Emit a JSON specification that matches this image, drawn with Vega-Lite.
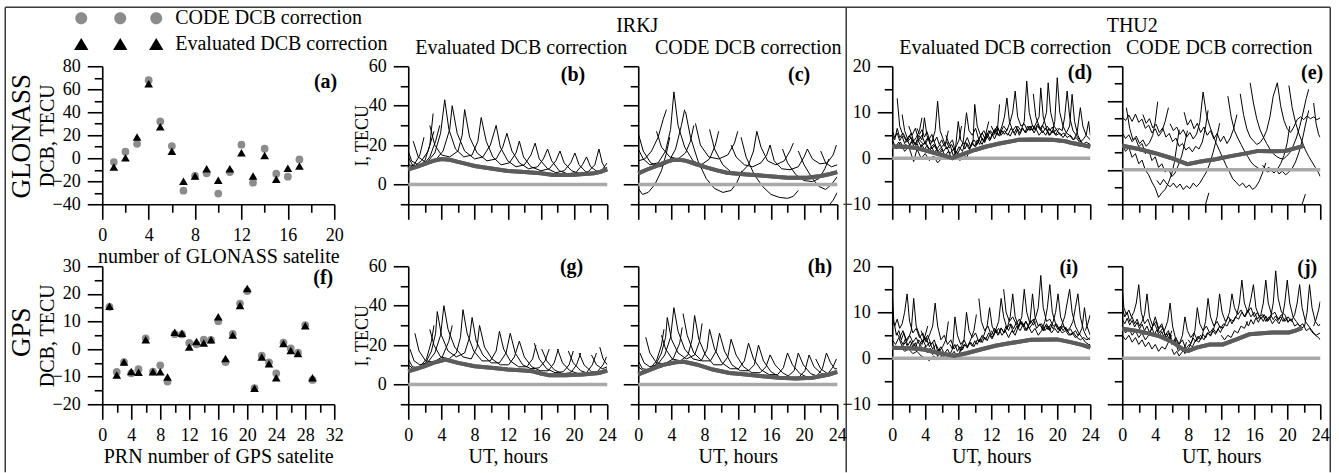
{
"$schema":"https://vega.github.io/schema/vega-lite/v6.json",
"autosize":{"type":"pad"},
"padding":{"left":4.25,"top":6.25,"right":8.25,"bottom":1},
"background":"white",
"config":{
 "font":"Liberation Serif",
 "view":{"stroke":null},
 "axis":{"domainColor":"black","domainWidth":1.6,"tickColor":"black","tickWidth":1.6,"labelFont":"Liberation Serif","labelFontSize":18,"labelColor":"black","titleFont":"Liberation Serif","titleFontSize":20,"titleFontWeight":"normal","titleColor":"black","grid":false,"labelPadding":7,"labelFlush":false,"labelOverlap":false,"titlePadding":4}
},
"datasets":{
"ga":[
{"n":1,"series":"CODE DCB correction","v":-3.3},{"n":2,"series":"CODE DCB correction","v":5.7},{"n":3,"series":"CODE DCB correction","v":12.6},{"n":4,"series":"CODE DCB correction","v":67.9},{"n":5,"series":"CODE DCB correction","v":32.0},{"n":6,"series":"CODE DCB correction","v":10.6},{"n":7,"series":"CODE DCB correction","v":-28.2},{"n":8,"series":"CODE DCB correction","v":-15.4},{"n":9,"series":"CODE DCB correction","v":-13.1},{"n":10,"series":"CODE DCB correction","v":-30.7},{"n":11,"series":"CODE DCB correction","v":-12.0},{"n":12,"series":"CODE DCB correction","v":11.8},{"n":13,"series":"CODE DCB correction","v":-21.2},{"n":14,"series":"CODE DCB correction","v":8.3},{"n":15,"series":"CODE DCB correction","v":-13.4},{"n":16,"series":"CODE DCB correction","v":-16.0},{"n":17,"series":"CODE DCB correction","v":-1.0},
{"n":1,"series":"Evaluated DCB correction","v":-7.5},{"n":2,"series":"Evaluated DCB correction","v":0.5},{"n":3,"series":"Evaluated DCB correction","v":18.4},{"n":4,"series":"Evaluated DCB correction","v":64.7},{"n":5,"series":"Evaluated DCB correction","v":27.4},{"n":6,"series":"Evaluated DCB correction","v":6.0},{"n":7,"series":"Evaluated DCB correction","v":-20.0},{"n":8,"series":"Evaluated DCB correction","v":-15.4},{"n":9,"series":"Evaluated DCB correction","v":-9.1},{"n":10,"series":"Evaluated DCB correction","v":-19.2},{"n":11,"series":"Evaluated DCB correction","v":-9.1},{"n":12,"series":"Evaluated DCB correction","v":4.8},{"n":13,"series":"Evaluated DCB correction","v":-15.4},{"n":14,"series":"Evaluated DCB correction","v":2.5},{"n":15,"series":"Evaluated DCB correction","v":-18.3},{"n":16,"series":"Evaluated DCB correction","v":-8.8},{"n":17,"series":"Evaluated DCB correction","v":-6.7}
],
"gp":[
{"n":1,"series":"CODE DCB correction","v":15.3},{"n":2,"series":"CODE DCB correction","v":-8.3},{"n":3,"series":"CODE DCB correction","v":-4.7},{"n":4,"series":"CODE DCB correction","v":-8.8},{"n":5,"series":"CODE DCB correction","v":-7.3},{"n":6,"series":"CODE DCB correction","v":3.9},{"n":7,"series":"CODE DCB correction","v":-8.2},{"n":8,"series":"CODE DCB correction","v":-5.9},{"n":9,"series":"CODE DCB correction","v":-11.8},{"n":10,"series":"CODE DCB correction","v":5.4},{"n":11,"series":"CODE DCB correction","v":5.3},{"n":12,"series":"CODE DCB correction","v":2.2},{"n":13,"series":"CODE DCB correction","v":1.7},{"n":14,"series":"CODE DCB correction","v":3.4},{"n":15,"series":"CODE DCB correction","v":3.3},{"n":16,"series":"CODE DCB correction","v":10.1},{"n":17,"series":"CODE DCB correction","v":-4.7},{"n":18,"series":"CODE DCB correction","v":5.5},{"n":19,"series":"CODE DCB correction","v":16.5},{"n":20,"series":"CODE DCB correction","v":21.0},{"n":21,"series":"CODE DCB correction","v":-14.2},{"n":22,"series":"CODE DCB correction","v":-2.4},{"n":23,"series":"CODE DCB correction","v":-4.8},{"n":24,"series":"CODE DCB correction","v":-8.8},{"n":25,"series":"CODE DCB correction","v":2.3},{"n":26,"series":"CODE DCB correction","v":0.2},{"n":27,"series":"CODE DCB correction","v":-1.3},{"n":28,"series":"CODE DCB correction","v":8.7},{"n":29,"series":"CODE DCB correction","v":-11.2},
{"n":1,"series":"Evaluated DCB correction","v":15.5},{"n":2,"series":"Evaluated DCB correction","v":-9.4},{"n":3,"series":"Evaluated DCB correction","v":-4.7},{"n":4,"series":"Evaluated DCB correction","v":-8.1},{"n":5,"series":"Evaluated DCB correction","v":-8.4},{"n":6,"series":"Evaluated DCB correction","v":3.4},{"n":7,"series":"Evaluated DCB correction","v":-8.2},{"n":8,"series":"Evaluated DCB correction","v":-8.2},{"n":9,"series":"Evaluated DCB correction","v":-10.1},{"n":10,"series":"Evaluated DCB correction","v":6.1},{"n":11,"series":"Evaluated DCB correction","v":5.7},{"n":12,"series":"Evaluated DCB correction","v":0.7},{"n":13,"series":"Evaluated DCB correction","v":2.7},{"n":14,"series":"Evaluated DCB correction","v":2.2},{"n":15,"series":"Evaluated DCB correction","v":3.4},{"n":16,"series":"Evaluated DCB correction","v":11.7},{"n":17,"series":"Evaluated DCB correction","v":-3.4},{"n":18,"series":"Evaluated DCB correction","v":5.1},{"n":19,"series":"Evaluated DCB correction","v":15.8},{"n":20,"series":"Evaluated DCB correction","v":21.9},{"n":21,"series":"Evaluated DCB correction","v":-14.2},{"n":22,"series":"Evaluated DCB correction","v":-2.9},{"n":23,"series":"Evaluated DCB correction","v":-5.3},{"n":24,"series":"Evaluated DCB correction","v":-10.4},{"n":25,"series":"Evaluated DCB correction","v":2.0},{"n":26,"series":"Evaluated DCB correction","v":-0.5},{"n":27,"series":"Evaluated DCB correction","v":-1.6},{"n":28,"series":"Evaluated DCB correction","v":8.4},{"n":29,"series":"Evaluated DCB correction","v":-10.4}
],
"m":[
{"p":"b","t":0,"v":7.7},{"p":"b","t":1,"v":9},{"p":"b","t":2,"v":10.5},{"p":"b","t":3,"v":12},{"p":"b","t":4,"v":12.9},{"p":"b","t":5,"v":12.6},{"p":"b","t":6,"v":11.5},{"p":"b","t":7,"v":10.5},{"p":"b","t":8,"v":9.4},{"p":"b","t":10,"v":8.1},{"p":"b","t":12,"v":6.9},{"p":"b","t":14,"v":6.3},{"p":"b","t":16,"v":5.7},{"p":"b","t":17.5,"v":4.8},{"p":"b","t":19,"v":4.9},{"p":"b","t":20,"v":5},{"p":"b","t":22.4,"v":5.7},{"p":"b","t":23.2,"v":6.5},{"p":"b","t":24,"v":7.7},
{"p":"c","t":0,"v":5.7},{"p":"c","t":1,"v":7.5},{"p":"c","t":2.2,"v":9.4},{"p":"c","t":3.2,"v":11.2},{"p":"c","t":4.2,"v":12.5},{"p":"c","t":5,"v":12.6},{"p":"c","t":5.8,"v":12},{"p":"c","t":7,"v":10.3},{"p":"c","t":8.3,"v":8.6},{"p":"c","t":9.5,"v":7.2},{"p":"c","t":10.7,"v":6},{"p":"c","t":12,"v":5.5},{"p":"c","t":13.1,"v":5.1},{"p":"c","t":15.5,"v":4.3},{"p":"c","t":18,"v":3.4},{"p":"c","t":20.4,"v":3.4},{"p":"c","t":22,"v":4.3},{"p":"c","t":23,"v":5.2},{"p":"c","t":24,"v":6.3},
{"p":"g","t":0,"v":6.7},{"p":"g","t":1,"v":8},{"p":"g","t":2,"v":9.3},{"p":"g","t":3,"v":11},{"p":"g","t":4.5,"v":12.7},{"p":"g","t":6,"v":11},{"p":"g","t":8,"v":9.3},{"p":"g","t":10,"v":8.5},{"p":"g","t":12,"v":7.6},{"p":"g","t":14,"v":7.1},{"p":"g","t":15,"v":6.7},{"p":"g","t":16,"v":5.6},{"p":"g","t":17,"v":4.7},{"p":"g","t":19,"v":4.7},{"p":"g","t":21,"v":5.1},{"p":"g","t":23,"v":5.9},{"p":"g","t":24,"v":7.1},
{"p":"h","t":0,"v":5.1},{"p":"h","t":1,"v":6.8},{"p":"h","t":2,"v":8.5},{"p":"h","t":3,"v":10},{"p":"h","t":4.5,"v":11.3},{"p":"h","t":5.5,"v":11.5},{"p":"h","t":7,"v":10.2},{"p":"h","t":9,"v":7.6},{"p":"h","t":11,"v":5.9},{"p":"h","t":13,"v":5.1},{"p":"h","t":15,"v":4.2},{"p":"h","t":17,"v":3.4},{"p":"h","t":19,"v":3},{"p":"h","t":21,"v":3.4},{"p":"h","t":23,"v":5.1},{"p":"h","t":24,"v":6.4},
{"p":"d","t":0,"v":2.55},{"p":"d","t":1.6,"v":2.5},{"p":"d","t":3,"v":2.2},{"p":"d","t":4.4,"v":1.5},{"p":"d","t":6,"v":0.7},{"p":"d","t":7.3,"v":0},{"p":"d","t":8,"v":0.5},{"p":"d","t":10,"v":1.8},{"p":"d","t":11.3,"v":2.5},{"p":"d","t":13,"v":3.2},{"p":"d","t":15.3,"v":4},{"p":"d","t":17,"v":4.1},{"p":"d","t":19.4,"v":4},{"p":"d","t":21,"v":3.7},{"p":"d","t":21.8,"v":3.3},{"p":"d","t":23,"v":2.9},{"p":"d","t":24,"v":2.5},
{"p":"e","t":0,"v":2.7},{"p":"e","t":2,"v":2},{"p":"e","t":4,"v":1.1},{"p":"e","t":6,"v":0},{"p":"e","t":7.9,"v":-1.3},{"p":"e","t":9.5,"v":-0.7},{"p":"e","t":11.3,"v":-0.2},{"p":"e","t":13,"v":0.4},{"p":"e","t":14.5,"v":0.9},{"p":"e","t":16.5,"v":1.6},{"p":"e","t":18,"v":1.5},{"p":"e","t":19.8,"v":1.6},{"p":"e","t":21,"v":2.2},{"p":"e","t":22,"v":2.7},
{"p":"i","t":0,"v":2.3},{"p":"i","t":2,"v":2.2},{"p":"i","t":3.8,"v":1.9},{"p":"i","t":5.5,"v":1.2},{"p":"i","t":7.5,"v":0.5},{"p":"i","t":9,"v":1.1},{"p":"i","t":10.7,"v":1.9},{"p":"i","t":12.5,"v":2.7},{"p":"i","t":14,"v":3.2},{"p":"i","t":16.8,"v":4},{"p":"i","t":20,"v":4.1},{"p":"i","t":21.6,"v":3.5},{"p":"i","t":23,"v":2.9},{"p":"i","t":24,"v":2.3},
{"p":"j","t":0,"v":6.4},{"p":"j","t":2,"v":5.9},{"p":"j","t":4.5,"v":4.8},{"p":"j","t":6,"v":3.6},{"p":"j","t":7.4,"v":1.9},{"p":"j","t":8,"v":1.6},{"p":"j","t":9,"v":2.3},{"p":"j","t":10.6,"v":3},{"p":"j","t":12.2,"v":3},{"p":"j","t":14,"v":4.2},{"p":"j","t":15.4,"v":5.2},{"p":"j","t":18.2,"v":5.6},{"p":"j","t":20.2,"v":5.6},{"p":"j","t":21,"v":6},{"p":"j","t":21.8,"v":6.6}
],
"b":[
{"s":1,"t":0,"v":14},{"s":1,"t":0.5,"v":10},{"s":1,"t":1.2,"v":9},{"s":1,"t":2,"v":12},{"s":1,"t":2.6,"v":20},{"s":1,"t":3,"v":36},
{"s":2,"t":0,"v":10},{"s":2,"t":0.8,"v":9.5},{"s":2,"t":1.6,"v":12},{"s":2,"t":2.4,"v":17},{"s":2,"t":3.1,"v":27},
{"s":3,"t":0,"v":17},{"s":3,"t":0.4,"v":12},{"s":3,"t":1.2,"v":10},{"s":3,"t":2.2,"v":11},{"s":3,"t":3.2,"v":16},{"s":3,"t":3.9,"v":26},{"s":3,"t":4.4,"v":43},
{"s":4,"t":0.6,"v":22},{"s":4,"t":1.2,"v":14},{"s":4,"t":2.2,"v":11},{"s":4,"t":3.2,"v":12},{"s":4,"t":4.2,"v":17},{"s":4,"t":5,"v":28},{"s":4,"t":5.3,"v":40},
{"s":5,"t":2.6,"v":30},{"s":5,"t":3.2,"v":20},{"s":5,"t":4,"v":15},{"s":5,"t":5,"v":14},{"s":5,"t":6,"v":17},{"s":5,"t":6.5,"v":25},{"s":5,"t":6.8,"v":38},
{"s":6,"t":4.4,"v":43},{"s":6,"t":4.9,"v":28},{"s":6,"t":5.7,"v":18},{"s":6,"t":6.7,"v":14},{"s":6,"t":7.7,"v":15},{"s":6,"t":8.4,"v":22},{"s":6,"t":8.8,"v":34},
{"s":7,"t":5.3,"v":40},{"s":7,"t":5.9,"v":26},{"s":7,"t":6.8,"v":17},{"s":7,"t":8,"v":13},{"s":7,"t":9,"v":14},{"s":7,"t":9.9,"v":20},{"s":7,"t":10.6,"v":30},
{"s":8,"t":6.8,"v":38},{"s":8,"t":7.4,"v":24},{"s":8,"t":8.3,"v":16},{"s":8,"t":9.5,"v":12},{"s":8,"t":10.6,"v":13},{"s":8,"t":11.4,"v":19},{"s":8,"t":11.9,"v":26},
{"s":9,"t":8.8,"v":34},{"s":9,"t":9.4,"v":22},{"s":9,"t":10.2,"v":14},{"s":9,"t":11.2,"v":10},{"s":9,"t":12.2,"v":11},{"s":9,"t":13,"v":16},{"s":9,"t":13.4,"v":22},
{"s":10,"t":10.6,"v":30},{"s":10,"t":11.1,"v":19},{"s":10,"t":12,"v":12},{"s":10,"t":13,"v":9},{"s":10,"t":14,"v":10},{"s":10,"t":14.8,"v":15},{"s":10,"t":15.3,"v":21},
{"s":11,"t":11.9,"v":26},{"s":11,"t":12.5,"v":17},{"s":11,"t":13.4,"v":11},{"s":11,"t":14.5,"v":8},{"s":11,"t":15.6,"v":9},{"s":11,"t":16.3,"v":13},{"s":11,"t":16.8,"v":18},
{"s":12,"t":13.4,"v":22},{"s":12,"t":13.9,"v":14},{"s":12,"t":14.8,"v":9},{"s":12,"t":16,"v":7},{"s":12,"t":17,"v":8},{"s":12,"t":17.8,"v":12},{"s":12,"t":18.3,"v":17},
{"s":13,"t":15.3,"v":21},{"s":13,"t":15.8,"v":13},{"s":13,"t":16.8,"v":8},{"s":13,"t":17.8,"v":6},{"s":13,"t":18.8,"v":7},{"s":13,"t":19.6,"v":11},{"s":13,"t":20.1,"v":16},
{"s":14,"t":16.8,"v":18},{"s":14,"t":17.3,"v":12},{"s":14,"t":18.2,"v":7},{"s":14,"t":19.2,"v":5.5},{"s":14,"t":20.2,"v":6},{"s":14,"t":21,"v":10},{"s":14,"t":21.5,"v":14},
{"s":15,"t":18.3,"v":17},{"s":15,"t":18.8,"v":11},{"s":15,"t":19.7,"v":7},{"s":15,"t":20.7,"v":5.5},{"s":15,"t":21.7,"v":6.5},{"s":15,"t":22.5,"v":10},{"s":15,"t":23,"v":18},
{"s":16,"t":20.1,"v":16},{"s":16,"t":20.6,"v":10},{"s":16,"t":21.4,"v":6.5},{"s":16,"t":22.4,"v":5.5},{"s":16,"t":23.3,"v":7},{"s":16,"t":24,"v":11},
{"s":17,"t":21.5,"v":14},{"s":17,"t":22,"v":9},{"s":17,"t":22.8,"v":6.5},{"s":17,"t":23.5,"v":6.5},{"s":17,"t":24,"v":8},
{"s":18,"t":23,"v":18},{"s":18,"t":23.4,"v":11},{"s":18,"t":23.8,"v":8},{"s":18,"t":24,"v":9},
{"s":19,"t":0,"v":8},{"s":19,"t":0.7,"v":10},{"s":19,"t":1.4,"v":15},{"s":19,"t":1.9,"v":24},
{"s":20,"t":1,"v":9},{"s":20,"t":1.8,"v":10},{"s":20,"t":2.6,"v":14},{"s":20,"t":3.3,"v":22},{"s":20,"t":3.8,"v":30}
],
"c":[
{"s":1,"t":0,"v":-2},{"s":1,"t":0.5,"v":-5},{"s":1,"t":1.2,"v":-4},{"s":1,"t":2,"v":0},{"s":1,"t":2.8,"v":7},{"s":1,"t":3.4,"v":16},{"s":1,"t":3.8,"v":24},
{"s":2,"t":0,"v":18},{"s":2,"t":0.6,"v":13},{"s":2,"t":1.4,"v":10},{"s":2,"t":2.4,"v":11},{"s":2,"t":3.3,"v":17},{"s":2,"t":3.9,"v":28},{"s":2,"t":4.3,"v":47},
{"s":3,"t":0,"v":12},{"s":3,"t":0.8,"v":13},{"s":3,"t":1.6,"v":17},{"s":3,"t":2.4,"v":24},{"s":3,"t":3,"v":33},{"s":3,"t":3.4,"v":38},
{"s":4,"t":0,"v":26},{"s":4,"t":0.6,"v":17},{"s":4,"t":1.5,"v":11},{"s":4,"t":2.6,"v":9},{"s":4,"t":3.6,"v":11},{"s":4,"t":4.5,"v":18},{"s":4,"t":5.2,"v":30},{"s":4,"t":5.6,"v":38},
{"s":5,"t":2.2,"v":27},{"s":5,"t":2.8,"v":19},{"s":5,"t":3.8,"v":14},{"s":5,"t":4.8,"v":13},{"s":5,"t":5.7,"v":16},{"s":5,"t":6.3,"v":22},{"s":5,"t":6.7,"v":30},
{"s":6,"t":4.3,"v":47},{"s":6,"t":4.8,"v":30},{"s":6,"t":5.6,"v":19},{"s":6,"t":6.6,"v":12},{"s":6,"t":7.6,"v":10},{"s":6,"t":8.6,"v":13},{"s":6,"t":9.3,"v":20},{"s":6,"t":9.7,"v":27},
{"s":7,"t":5.7,"v":37},{"s":7,"t":6.3,"v":24},{"s":7,"t":7.2,"v":12},{"s":7,"t":8.2,"v":3},{"s":7,"t":9.2,"v":-2},{"s":7,"t":10.2,"v":-4},{"s":7,"t":11.2,"v":-3},{"s":7,"t":11.9,"v":1},{"s":7,"t":12.5,"v":7},
{"s":8,"t":6.9,"v":31},{"s":8,"t":7.5,"v":20},{"s":8,"t":8.5,"v":14},{"s":8,"t":9.7,"v":13},{"s":8,"t":10.8,"v":15},{"s":8,"t":11.6,"v":21},{"s":8,"t":12,"v":27},
{"s":9,"t":8.6,"v":28},{"s":9,"t":9.2,"v":18},{"s":9,"t":10.2,"v":10},{"s":9,"t":11.3,"v":6},{"s":9,"t":12.4,"v":6},{"s":9,"t":13.3,"v":10},{"s":9,"t":13.9,"v":17},{"s":9,"t":14.3,"v":27},
{"s":10,"t":11.2,"v":20},{"s":10,"t":11.8,"v":14},{"s":10,"t":12.8,"v":10},{"s":10,"t":13.8,"v":9},{"s":10,"t":14.8,"v":11},{"s":10,"t":15.5,"v":15},{"s":10,"t":15.9,"v":20},
{"s":11,"t":12.4,"v":24},{"s":11,"t":13,"v":14},{"s":11,"t":14,"v":5},{"s":11,"t":15,"v":-1},{"s":11,"t":16,"v":-5},{"s":11,"t":17,"v":-6.5},{"s":11,"t":18,"v":-7},{"s":11,"t":18.7,"v":-6},{"s":11,"t":19.3,"v":-3},
{"s":12,"t":14.3,"v":27},{"s":12,"t":14.8,"v":19},{"s":12,"t":15.6,"v":12},{"s":12,"t":16.6,"v":10},{"s":12,"t":17.6,"v":12},{"s":12,"t":18.3,"v":17},{"s":12,"t":18.7,"v":21},
{"s":13,"t":15.9,"v":20},{"s":13,"t":16.4,"v":12},{"s":13,"t":17.3,"v":8},{"s":13,"t":18.3,"v":7.5},{"s":13,"t":19.3,"v":9},{"s":13,"t":20,"v":14},{"s":13,"t":20.4,"v":18},
{"s":14,"t":17.4,"v":18},{"s":14,"t":18,"v":11},{"s":14,"t":19,"v":5},{"s":14,"t":20,"v":2},{"s":14,"t":21,"v":1.5},{"s":14,"t":21.8,"v":3},{"s":14,"t":22.5,"v":8},{"s":14,"t":23,"v":13},
{"s":15,"t":19.3,"v":17},{"s":15,"t":20,"v":10},{"s":15,"t":21,"v":3},{"s":15,"t":21.8,"v":-1},{"s":15,"t":22.6,"v":-2.5},{"s":15,"t":23.3,"v":0},{"s":15,"t":24,"v":4},
{"s":16,"t":20.4,"v":18},{"s":16,"t":21,"v":13},{"s":16,"t":21.9,"v":10.5},{"s":16,"t":22.8,"v":11},{"s":16,"t":23.5,"v":15},{"s":16,"t":23.9,"v":20},
{"s":17,"t":22,"v":17},{"s":17,"t":22.6,"v":11},{"s":17,"t":23.3,"v":9},{"s":17,"t":24,"v":10},
{"s":18,"t":23.1,"v":-10},{"s":18,"t":23.5,"v":-8},{"s":18,"t":24,"v":-4}
],
"g":[
{"s":1,"t":0,"v":10},{"s":1,"t":0.6,"v":8},{"s":1,"t":1.4,"v":9},{"s":1,"t":2.2,"v":13},{"s":1,"t":2.8,"v":22},{"s":1,"t":3.1,"v":30},
{"s":2,"t":0,"v":13},{"s":2,"t":0.5,"v":9},{"s":2,"t":1.3,"v":8.5},{"s":2,"t":2.1,"v":11},{"s":2,"t":2.8,"v":17},{"s":2,"t":3.3,"v":26},{"s":2,"t":3.5,"v":37},
{"s":3,"t":0.2,"v":18},{"s":3,"t":0.7,"v":12},{"s":3,"t":1.4,"v":10},{"s":3,"t":2.3,"v":11},{"s":3,"t":3.2,"v":16},{"s":3,"t":3.9,"v":25},{"s":3,"t":4.3,"v":40},
{"s":4,"t":0.8,"v":26},{"s":4,"t":1.3,"v":17},{"s":4,"t":2.1,"v":12},{"s":4,"t":3.1,"v":11.5},{"s":4,"t":4.1,"v":14},{"s":4,"t":4.9,"v":22},{"s":4,"t":5.3,"v":30},
{"s":5,"t":2.6,"v":28},{"s":5,"t":3.1,"v":20},{"s":5,"t":3.9,"v":14},{"s":5,"t":4.9,"v":13},{"s":5,"t":5.8,"v":16},{"s":5,"t":6.3,"v":24},{"s":5,"t":6.6,"v":38},
{"s":6,"t":3.5,"v":37},{"s":6,"t":4,"v":25},{"s":6,"t":4.8,"v":17},{"s":6,"t":5.8,"v":14},{"s":6,"t":6.8,"v":16},{"s":6,"t":7.4,"v":24},{"s":6,"t":7.7,"v":34},
{"s":7,"t":4.3,"v":40},{"s":7,"t":4.8,"v":28},{"s":7,"t":5.6,"v":19},{"s":7,"t":6.6,"v":14},{"s":7,"t":7.6,"v":13},{"s":7,"t":8.3,"v":19},{"s":7,"t":8.6,"v":30},
{"s":8,"t":6.6,"v":38},{"s":8,"t":7.1,"v":26},{"s":8,"t":7.9,"v":17},{"s":8,"t":8.9,"v":12},{"s":8,"t":9.9,"v":12},{"s":8,"t":10.6,"v":17},{"s":8,"t":11,"v":27},
{"s":9,"t":7.7,"v":34},{"s":9,"t":8.2,"v":22},{"s":9,"t":9,"v":15},{"s":9,"t":10,"v":11},{"s":9,"t":11,"v":11},{"s":9,"t":11.8,"v":16},{"s":9,"t":12.3,"v":26},
{"s":10,"t":8.6,"v":30},{"s":10,"t":9.2,"v":19},{"s":10,"t":10.1,"v":13},{"s":10,"t":11.1,"v":10},{"s":10,"t":12.1,"v":10},{"s":10,"t":12.8,"v":14},{"s":10,"t":13.4,"v":22},
{"s":11,"t":11,"v":27},{"s":11,"t":11.5,"v":18},{"s":11,"t":12.3,"v":12},{"s":11,"t":13.3,"v":9},{"s":11,"t":14.3,"v":9},{"s":11,"t":15,"v":13},{"s":11,"t":15.4,"v":20},
{"s":12,"t":12.3,"v":26},{"s":12,"t":12.9,"v":16},{"s":12,"t":13.8,"v":10},{"s":12,"t":14.8,"v":8},{"s":12,"t":15.8,"v":8.5},{"s":12,"t":16.5,"v":12},{"s":12,"t":17,"v":18},
{"s":13,"t":13.4,"v":22},{"s":13,"t":14,"v":14},{"s":13,"t":14.9,"v":9},{"s":13,"t":15.9,"v":7},{"s":13,"t":16.9,"v":7},{"s":13,"t":17.6,"v":11},{"s":13,"t":18.1,"v":18},
{"s":14,"t":15.2,"v":21},{"s":14,"t":15.8,"v":13},{"s":14,"t":16.7,"v":8},{"s":14,"t":17.7,"v":6},{"s":14,"t":18.7,"v":6.5},{"s":14,"t":19.4,"v":10},{"s":14,"t":19.9,"v":17},
{"s":15,"t":16.1,"v":18},{"s":15,"t":16.7,"v":12},{"s":15,"t":17.6,"v":7.5},{"s":15,"t":18.6,"v":5.5},{"s":15,"t":19.6,"v":6},{"s":15,"t":20.3,"v":10},{"s":15,"t":20.8,"v":16},
{"s":16,"t":18,"v":18},{"s":16,"t":18.6,"v":11},{"s":16,"t":19.5,"v":7},{"s":16,"t":20.5,"v":5.5},{"s":16,"t":21.5,"v":6},{"s":16,"t":22.2,"v":10},{"s":16,"t":22.7,"v":16},
{"s":17,"t":19.3,"v":17},{"s":17,"t":19.9,"v":11},{"s":17,"t":20.8,"v":7},{"s":17,"t":21.8,"v":5.5},{"s":17,"t":22.8,"v":6.5},{"s":17,"t":23.5,"v":10},{"s":17,"t":23.9,"v":14},
{"s":18,"t":20.6,"v":16},{"s":18,"t":21.2,"v":10},{"s":18,"t":22.1,"v":6.5},{"s":18,"t":23.1,"v":6},{"s":18,"t":24,"v":8},
{"s":19,"t":22.1,"v":15},{"s":19,"t":22.7,"v":10},{"s":19,"t":23.4,"v":8},{"s":19,"t":24,"v":9},
{"s":20,"t":23.1,"v":19},{"s":20,"t":23.5,"v":13},{"s":20,"t":24,"v":10}
],
"h":[
{"s":1,"t":0,"v":9},{"s":1,"t":0.6,"v":7},{"s":1,"t":1.4,"v":8},{"s":1,"t":2.2,"v":12},{"s":1,"t":2.8,"v":20},{"s":1,"t":3.1,"v":28},
{"s":2,"t":0,"v":12},{"s":2,"t":0.5,"v":8},{"s":2,"t":1.3,"v":7.5},{"s":2,"t":2.1,"v":10},{"s":2,"t":2.8,"v":16},{"s":2,"t":3.3,"v":24},{"s":2,"t":3.5,"v":34},
{"s":3,"t":0.2,"v":16},{"s":3,"t":0.7,"v":11},{"s":3,"t":1.4,"v":9},{"s":3,"t":2.3,"v":10},{"s":3,"t":3.2,"v":15},{"s":3,"t":3.9,"v":24},{"s":3,"t":4.3,"v":39},
{"s":4,"t":0.9,"v":24},{"s":4,"t":1.4,"v":16},{"s":4,"t":2.2,"v":11},{"s":4,"t":3.2,"v":10.5},{"s":4,"t":4.2,"v":13},{"s":4,"t":5,"v":21},{"s":4,"t":5.3,"v":29},
{"s":5,"t":2.8,"v":25},{"s":5,"t":3.3,"v":18},{"s":5,"t":4.1,"v":13},{"s":5,"t":5.1,"v":12},{"s":5,"t":6,"v":15},{"s":5,"t":6.5,"v":23},{"s":5,"t":6.8,"v":35},
{"s":6,"t":3.5,"v":34},{"s":6,"t":4,"v":23},{"s":6,"t":4.8,"v":16},{"s":6,"t":5.8,"v":13},{"s":6,"t":6.8,"v":15},{"s":6,"t":7.4,"v":22},{"s":6,"t":7.7,"v":31},
{"s":7,"t":4.3,"v":39},{"s":7,"t":4.8,"v":27},{"s":7,"t":5.6,"v":18},{"s":7,"t":6.6,"v":13},{"s":7,"t":7.6,"v":12},{"s":7,"t":8.3,"v":18},{"s":7,"t":8.6,"v":28},
{"s":8,"t":5.4,"v":36},{"s":8,"t":5.9,"v":25},{"s":8,"t":6.7,"v":16},{"s":8,"t":7.7,"v":12},{"s":8,"t":8.7,"v":12},{"s":8,"t":9.4,"v":17},{"s":8,"t":9.8,"v":26},
{"s":9,"t":6.8,"v":35},{"s":9,"t":7.3,"v":23},{"s":9,"t":8.1,"v":15},{"s":9,"t":9.1,"v":10},{"s":9,"t":10.1,"v":10},{"s":9,"t":10.8,"v":14},{"s":9,"t":11.2,"v":23},
{"s":10,"t":8.6,"v":28},{"s":10,"t":9.2,"v":18},{"s":10,"t":10.1,"v":11},{"s":10,"t":11.1,"v":8},{"s":10,"t":12.1,"v":8},{"s":10,"t":12.8,"v":12},{"s":10,"t":13.3,"v":21},
{"s":11,"t":9.8,"v":26},{"s":11,"t":10.4,"v":17},{"s":11,"t":11.3,"v":10},{"s":11,"t":12.3,"v":7},{"s":11,"t":13.3,"v":7},{"s":11,"t":14,"v":10},{"s":11,"t":14.5,"v":20},
{"s":12,"t":11.2,"v":23},{"s":12,"t":11.8,"v":15},{"s":12,"t":12.7,"v":9},{"s":12,"t":13.7,"v":6},{"s":12,"t":14.7,"v":6},{"s":12,"t":15.4,"v":9},{"s":12,"t":15.9,"v":15},
{"s":13,"t":13.3,"v":21},{"s":13,"t":13.9,"v":13},{"s":13,"t":14.8,"v":7.5},{"s":13,"t":15.8,"v":5},{"s":13,"t":16.8,"v":5},{"s":13,"t":17.5,"v":8.5},{"s":13,"t":18,"v":16},
{"s":14,"t":14.5,"v":20},{"s":14,"t":15.1,"v":12},{"s":14,"t":16,"v":6.5},{"s":14,"t":17,"v":4},{"s":14,"t":18,"v":4},{"s":14,"t":18.8,"v":7},{"s":14,"t":19.3,"v":16},
{"s":15,"t":15.9,"v":15},{"s":15,"t":16.5,"v":10},{"s":15,"t":17.4,"v":6},{"s":15,"t":18.4,"v":3.5},{"s":15,"t":19.4,"v":3.8},{"s":15,"t":20.1,"v":7},{"s":15,"t":20.6,"v":15},
{"s":16,"t":18,"v":16},{"s":16,"t":18.6,"v":10},{"s":16,"t":19.5,"v":5.5},{"s":16,"t":20.5,"v":3.5},{"s":16,"t":21.5,"v":4},{"s":16,"t":22.2,"v":8},{"s":16,"t":22.7,"v":16},
{"s":17,"t":19.3,"v":16},{"s":17,"t":19.9,"v":10},{"s":17,"t":20.8,"v":5.5},{"s":17,"t":21.8,"v":4},{"s":17,"t":22.8,"v":5},{"s":17,"t":23.5,"v":9},{"s":17,"t":23.9,"v":13},
{"s":18,"t":20.6,"v":15},{"s":18,"t":21.2,"v":9},{"s":18,"t":22.1,"v":5.5},{"s":18,"t":23.1,"v":4.5},{"s":18,"t":24,"v":7},
{"s":19,"t":22.7,"v":16},{"s":19,"t":23.2,"v":11},{"s":19,"t":23.7,"v":8},{"s":19,"t":24,"v":8},
{"s":20,"t":21.4,"v":13},{"s":20,"t":22,"v":8},{"s":20,"t":23,"v":5},{"s":20,"t":24,"v":6}
],
"d":[
{"s":1,"t":0,"v":5},{"s":1,"t":0.3,"v":4},{"s":1,"t":0.6,"v":6.5},{"s":1,"t":0.9,"v":4.5},{"s":1,"t":1.3,"v":5.5},{"s":1,"t":1.7,"v":4},{"s":1,"t":2.1,"v":5},{"s":1,"t":2.5,"v":3.5},{"s":1,"t":2.9,"v":4.5},{"s":1,"t":3.3,"v":6},{"s":1,"t":3.6,"v":8.8},
{"s":2,"t":0.6,"v":13},{"s":2,"t":0.9,"v":7},{"s":2,"t":1.3,"v":5},{"s":2,"t":1.8,"v":3.5},{"s":2,"t":2.3,"v":4.5},{"s":2,"t":2.8,"v":3},{"s":2,"t":3.3,"v":4},{"s":2,"t":3.8,"v":3},{"s":2,"t":4.3,"v":4.5},{"s":2,"t":4.8,"v":3.5},{"s":2,"t":5.2,"v":6},{"s":2,"t":5.5,"v":12.4},
{"s":3,"t":0,"v":4},{"s":3,"t":0.4,"v":2.5},{"s":3,"t":0.8,"v":3.5},{"s":3,"t":1.2,"v":2},{"s":3,"t":1.6,"v":3},{"s":3,"t":2,"v":2.5},{"s":3,"t":2.4,"v":4},{"s":3,"t":2.8,"v":3},{"s":3,"t":3.2,"v":5},{"s":3,"t":3.6,"v":4},{"s":3,"t":3.9,"v":8.8},
{"s":4,"t":1.2,"v":9.5},{"s":4,"t":1.5,"v":6},{"s":4,"t":1.9,"v":4},{"s":4,"t":2.3,"v":5.5},{"s":4,"t":2.7,"v":3},{"s":4,"t":3.1,"v":4},{"s":4,"t":3.5,"v":2.5},{"s":4,"t":4,"v":3.5},{"s":4,"t":4.5,"v":2},{"s":4,"t":5,"v":3},{"s":4,"t":5.5,"v":1.5},{"s":4,"t":6,"v":2.5},{"s":4,"t":6.5,"v":3.5},{"s":4,"t":6.8,"v":6},
{"s":5,"t":2,"v":7},{"s":5,"t":2.4,"v":5},{"s":5,"t":2.8,"v":6.5},{"s":5,"t":3.2,"v":4},{"s":5,"t":3.6,"v":5},{"s":5,"t":4,"v":3},{"s":5,"t":4.4,"v":4.5},{"s":5,"t":4.8,"v":2},{"s":5,"t":5.2,"v":3},{"s":5,"t":5.6,"v":1},{"s":5,"t":6,"v":2},{"s":5,"t":6.4,"v":0.5},{"s":5,"t":6.8,"v":1.5},{"s":5,"t":7.2,"v":0},{"s":5,"t":7.6,"v":1},{"s":5,"t":8,"v":8},
{"s":6,"t":3.9,"v":8.8},{"s":6,"t":4.2,"v":5},{"s":6,"t":4.6,"v":3},{"s":6,"t":5,"v":4},{"s":6,"t":5.4,"v":2},{"s":6,"t":5.8,"v":3},{"s":6,"t":6.2,"v":1.5},{"s":6,"t":6.6,"v":2.5},{"s":6,"t":7,"v":1},{"s":6,"t":7.4,"v":2},{"s":6,"t":7.8,"v":0.5},{"s":6,"t":8.2,"v":2},{"s":6,"t":8.6,"v":3.5},{"s":6,"t":9,"v":9.9},
{"s":7,"t":5.5,"v":12.4},{"s":7,"t":5.8,"v":6},{"s":7,"t":6.2,"v":4},{"s":7,"t":6.6,"v":2},{"s":7,"t":7,"v":3},{"s":7,"t":7.4,"v":0.5},{"s":7,"t":7.8,"v":1.5},{"s":7,"t":8.2,"v":-0.5},{"s":7,"t":8.6,"v":1},{"s":7,"t":9,"v":0},{"s":7,"t":9.4,"v":2},{"s":7,"t":9.8,"v":4},{"s":7,"t":10,"v":11.7},
{"s":8,"t":6.5,"v":5},{"s":8,"t":6.9,"v":3},{"s":8,"t":7.3,"v":4},{"s":8,"t":7.7,"v":1},{"s":8,"t":8.1,"v":2.5},{"s":8,"t":8.5,"v":1.5},{"s":8,"t":8.9,"v":3.5},{"s":8,"t":9.3,"v":2},{"s":8,"t":9.7,"v":3},{"s":8,"t":10.1,"v":2.5},{"s":8,"t":10.5,"v":4},{"s":8,"t":10.9,"v":3},{"s":8,"t":11.3,"v":5},{"s":8,"t":11.7,"v":8},
{"s":9,"t":8,"v":8},{"s":9,"t":8.3,"v":4},{"s":9,"t":8.7,"v":3},{"s":9,"t":9.1,"v":4.5},{"s":9,"t":9.5,"v":2.5},{"s":9,"t":9.9,"v":4},{"s":9,"t":10.3,"v":3},{"s":9,"t":10.7,"v":5},{"s":9,"t":11.1,"v":3.5},{"s":9,"t":11.5,"v":5.5},{"s":9,"t":11.9,"v":4},{"s":9,"t":12.3,"v":6},{"s":9,"t":12.7,"v":5},{"s":9,"t":13,"v":11.7},
{"s":10,"t":9,"v":9.9},{"s":10,"t":9.3,"v":6},{"s":10,"t":9.7,"v":5},{"s":10,"t":10.1,"v":6.5},{"s":10,"t":10.5,"v":4},{"s":10,"t":10.9,"v":5.5},{"s":10,"t":11.3,"v":4},{"s":10,"t":11.7,"v":6},{"s":10,"t":12.1,"v":5},{"s":10,"t":12.5,"v":6.5},{"s":10,"t":12.9,"v":5},{"s":10,"t":13.3,"v":7},{"s":10,"t":13.6,"v":9},{"s":10,"t":13.9,"v":13.1},
{"s":11,"t":10,"v":11.7},{"s":11,"t":10.3,"v":7},{"s":11,"t":10.7,"v":5},{"s":11,"t":11.1,"v":6},{"s":11,"t":11.5,"v":4.5},{"s":11,"t":11.9,"v":6},{"s":11,"t":12.3,"v":5},{"s":11,"t":12.7,"v":7},{"s":11,"t":13.1,"v":5.5},{"s":11,"t":13.5,"v":7},{"s":11,"t":13.9,"v":6},{"s":11,"t":14.3,"v":8},{"s":11,"t":14.6,"v":10},{"s":11,"t":14.9,"v":14.6},
{"s":12,"t":12,"v":7},{"s":12,"t":12.4,"v":5.5},{"s":12,"t":12.8,"v":6.5},{"s":12,"t":13.2,"v":5},{"s":12,"t":13.6,"v":6},{"s":12,"t":14,"v":5},{"s":12,"t":14.4,"v":6.5},{"s":12,"t":14.8,"v":5.5},{"s":12,"t":15.2,"v":7},{"s":12,"t":15.6,"v":6},{"s":12,"t":16,"v":8},{"s":12,"t":16.3,"v":16.8},
{"s":13,"t":13.9,"v":13.1},{"s":13,"t":14.2,"v":8},{"s":13,"t":14.6,"v":6},{"s":13,"t":15,"v":7},{"s":13,"t":15.4,"v":5},{"s":13,"t":15.8,"v":6.5},{"s":13,"t":16.2,"v":5.5},{"s":13,"t":16.6,"v":7},{"s":13,"t":17,"v":6},{"s":13,"t":17.4,"v":7.5},{"s":13,"t":17.8,"v":9},{"s":13,"t":18,"v":15.3},
{"s":14,"t":14.9,"v":14.6},{"s":14,"t":15.2,"v":9},{"s":14,"t":15.6,"v":7},{"s":14,"t":16,"v":7.5},{"s":14,"t":16.4,"v":6},{"s":14,"t":16.8,"v":7},{"s":14,"t":17.2,"v":5.5},{"s":14,"t":17.6,"v":7},{"s":14,"t":18,"v":6},{"s":14,"t":18.4,"v":8},{"s":14,"t":18.7,"v":10},{"s":14,"t":18.9,"v":16.4},
{"s":15,"t":16.3,"v":16.8},{"s":15,"t":16.6,"v":10},{"s":15,"t":17,"v":7},{"s":15,"t":17.4,"v":6.5},{"s":15,"t":17.8,"v":5},{"s":15,"t":18.2,"v":6},{"s":15,"t":18.6,"v":5},{"s":15,"t":19,"v":6.5},{"s":15,"t":19.4,"v":5.5},{"s":15,"t":19.7,"v":8},{"s":15,"t":20,"v":17.5},
{"s":16,"t":17.1,"v":14},{"s":16,"t":17.4,"v":9},{"s":16,"t":17.8,"v":7},{"s":16,"t":18.2,"v":5.5},{"s":16,"t":18.6,"v":6.5},{"s":16,"t":19,"v":5},{"s":16,"t":19.4,"v":6},{"s":16,"t":19.8,"v":5},{"s":16,"t":20.2,"v":6.5},{"s":16,"t":20.6,"v":6},{"s":16,"t":20.9,"v":9},{"s":16,"t":21.2,"v":14.6},
{"s":17,"t":18,"v":15.3},{"s":17,"t":18.3,"v":9},{"s":17,"t":18.7,"v":6.5},{"s":17,"t":19.1,"v":5},{"s":17,"t":19.5,"v":6},{"s":17,"t":19.9,"v":5},{"s":17,"t":20.3,"v":5.5},{"s":17,"t":20.7,"v":4.5},{"s":17,"t":21.1,"v":5.5},{"s":17,"t":21.5,"v":7},{"s":17,"t":21.8,"v":13.9},
{"s":18,"t":18.9,"v":16.4},{"s":18,"t":19.2,"v":10},{"s":18,"t":19.6,"v":7},{"s":18,"t":20,"v":6},{"s":18,"t":20.4,"v":5},{"s":18,"t":20.8,"v":5.5},{"s":18,"t":21.2,"v":4.5},{"s":18,"t":21.6,"v":5},{"s":18,"t":22,"v":4},{"s":18,"t":22.4,"v":5.5},{"s":18,"t":22.8,"v":11},
{"s":19,"t":20,"v":17.5},{"s":19,"t":20.3,"v":10},{"s":19,"t":20.7,"v":7},{"s":19,"t":21.1,"v":5.5},{"s":19,"t":21.5,"v":5},{"s":19,"t":21.9,"v":4},{"s":19,"t":22.3,"v":4.5},{"s":19,"t":22.7,"v":3.5},{"s":19,"t":23.1,"v":4},{"s":19,"t":23.5,"v":5},{"s":19,"t":23.8,"v":8},{"s":19,"t":24,"v":5},
{"s":20,"t":21.2,"v":14.6},{"s":20,"t":21.5,"v":9},{"s":20,"t":21.9,"v":6},{"s":20,"t":22.3,"v":5},{"s":20,"t":22.7,"v":4},{"s":20,"t":23.1,"v":3},{"s":20,"t":23.5,"v":3.5},{"s":20,"t":24,"v":3},
{"s":21,"t":22.8,"v":11},{"s":21,"t":23.1,"v":7},{"s":21,"t":23.5,"v":5},{"s":21,"t":24,"v":4},
{"s":22,"t":21.8,"v":13.9},{"s":22,"t":22.1,"v":8},{"s":22,"t":22.5,"v":5},{"s":22,"t":22.9,"v":3.5},{"s":22,"t":23.3,"v":3},{"s":22,"t":23.7,"v":2.8},{"s":22,"t":24,"v":3},
{"s":23,"t":0,"v":3},{"s":23,"t":0.5,"v":2},{"s":23,"t":1,"v":3.5},{"s":23,"t":1.5,"v":1.5},{"s":23,"t":2,"v":2.5},{"s":23,"t":2.6,"v":-0.7},{"s":23,"t":3,"v":2},{"s":23,"t":3.5,"v":0},{"s":23,"t":4,"v":1},{"s":23,"t":4.5,"v":-0.5},{"s":23,"t":5,"v":0.5},{"s":23,"t":5.5,"v":-1},{"s":23,"t":6,"v":0},
{"s":24,"t":0,"v":6},{"s":24,"t":0.3,"v":4.5},{"s":24,"t":0.6,"v":5.5},{"s":24,"t":0.9,"v":3.8},{"s":24,"t":1.2,"v":4.8},{"s":24,"t":1.5,"v":3.2},{"s":24,"t":1.8,"v":4.2},{"s":24,"t":2.1,"v":2.8},{"s":24,"t":2.4,"v":3.6},{"s":24,"t":2.7,"v":2.2},{"s":24,"t":3,"v":3.2},{"s":24,"t":3.3,"v":2},{"s":24,"t":3.6,"v":3},{"s":24,"t":3.9,"v":1.8},{"s":24,"t":4.2,"v":2.8},{"s":24,"t":4.5,"v":1.5},{"s":24,"t":4.8,"v":2.4},{"s":24,"t":5.1,"v":1.2},{"s":24,"t":5.4,"v":2},{"s":24,"t":5.7,"v":0.8},{"s":24,"t":6,"v":1.6},
{"s":25,"t":8.5,"v":3},{"s":25,"t":8.8,"v":2},{"s":25,"t":9.1,"v":3.2},{"s":25,"t":9.4,"v":2.2},{"s":25,"t":9.7,"v":3.5},{"s":25,"t":10,"v":2.6},{"s":25,"t":10.3,"v":4},{"s":25,"t":10.6,"v":3},{"s":25,"t":10.9,"v":4.4},{"s":25,"t":11.2,"v":3.4},{"s":25,"t":11.5,"v":4.8},{"s":25,"t":11.8,"v":3.8},{"s":25,"t":12.1,"v":5.2},{"s":25,"t":12.4,"v":4.2},{"s":25,"t":12.7,"v":5.6},{"s":25,"t":13,"v":4.8},{"s":25,"t":13.3,"v":6},{"s":25,"t":13.6,"v":5.2},{"s":25,"t":14,"v":6.5},
{"s":26,"t":14,"v":5.5},{"s":26,"t":14.3,"v":4.8},{"s":26,"t":14.6,"v":6},{"s":26,"t":14.9,"v":5},{"s":26,"t":15.2,"v":6.4},{"s":26,"t":15.5,"v":5.4},{"s":26,"t":15.8,"v":6.6},{"s":26,"t":16.1,"v":5.6},{"s":26,"t":16.4,"v":7},{"s":26,"t":16.7,"v":6},{"s":26,"t":17,"v":7.2},{"s":26,"t":17.3,"v":6.2},{"s":26,"t":17.6,"v":7.4},{"s":26,"t":17.9,"v":6.4},{"s":26,"t":18.2,"v":7.2},{"s":26,"t":18.5,"v":6.2},{"s":26,"t":18.8,"v":7},{"s":26,"t":19.1,"v":6},{"s":26,"t":19.4,"v":6.8},{"s":26,"t":19.7,"v":5.8},{"s":26,"t":20,"v":6.5},
{"s":27,"t":3,"v":6.5},{"s":27,"t":3.3,"v":5.2},{"s":27,"t":3.6,"v":6.2},{"s":27,"t":3.9,"v":4.6},{"s":27,"t":4.2,"v":5.8},{"s":27,"t":4.5,"v":4.2},{"s":27,"t":4.8,"v":5.2},{"s":27,"t":5.1,"v":3.6},{"s":27,"t":5.4,"v":4.6},{"s":27,"t":5.7,"v":3},{"s":27,"t":6,"v":4},{"s":27,"t":6.3,"v":2.6},{"s":27,"t":6.6,"v":3.6},{"s":27,"t":6.9,"v":2.2},{"s":27,"t":7.2,"v":3},{"s":27,"t":7.5,"v":1.8},{"s":27,"t":7.8,"v":2.8},{"s":27,"t":8.1,"v":4},{"s":27,"t":8.4,"v":7}
],
"e":[
{"s":1,"t":0,"v":9},{"s":1,"t":0.4,"v":8.2},{"s":1,"t":0.8,"v":9.4},{"s":1,"t":1.2,"v":8},{"s":1,"t":1.6,"v":9.6},{"s":1,"t":2,"v":7.8},{"s":1,"t":2.4,"v":8.5},{"s":1,"t":2.8,"v":6.5},{"s":1,"t":3.2,"v":7.2},{"s":1,"t":3.6,"v":5.5},{"s":1,"t":4,"v":6.4},{"s":1,"t":4.4,"v":4.8},{"s":1,"t":4.8,"v":5.8},{"s":1,"t":5.2,"v":8},{"s":1,"t":5.6,"v":11},
{"s":2,"t":0,"v":5.5},{"s":2,"t":0.4,"v":4.3},{"s":2,"t":0.8,"v":5.1},{"s":2,"t":1.2,"v":3.6},{"s":2,"t":1.6,"v":4.4},{"s":2,"t":2,"v":2.5},{"s":2,"t":2.4,"v":3.2},{"s":2,"t":2.8,"v":1},{"s":2,"t":3.2,"v":1.8},{"s":2,"t":3.6,"v":-0.5},{"s":2,"t":4,"v":0.3},{"s":2,"t":4.4,"v":-2},{"s":2,"t":4.8,"v":-1.2},{"s":2,"t":5.2,"v":-3},{"s":2,"t":5.6,"v":-2.2},{"s":2,"t":6,"v":-4},{"s":2,"t":6.4,"v":-3.2},{"s":2,"t":6.8,"v":-1.5},{"s":2,"t":7.2,"v":0.5},{"s":2,"t":7.6,"v":3.5},{"s":2,"t":7.9,"v":6},
{"s":3,"t":0,"v":3},{"s":3,"t":0.4,"v":1.5},{"s":3,"t":0.8,"v":2.3},{"s":3,"t":1.2,"v":0.2},{"s":3,"t":1.6,"v":1},{"s":3,"t":2,"v":-1.2},{"s":3,"t":2.4,"v":-0.4},{"s":3,"t":2.8,"v":-2.6},{"s":3,"t":3.2,"v":-3.6},{"s":3,"t":3.6,"v":-5.2},{"s":3,"t":4,"v":-6.5},{"s":3,"t":4.4,"v":-8.5},{"s":3,"t":4.8,"v":-7.5},{"s":3,"t":5.2,"v":-6.8},{"s":3,"t":5.6,"v":-5.3},{"s":3,"t":6,"v":-3.4},{"s":3,"t":6.3,"v":-1},{"s":3,"t":6.6,"v":2.5},{"s":3,"t":6.9,"v":6.2},
{"s":4,"t":0.5,"v":11},{"s":4,"t":0.9,"v":6.5},{"s":4,"t":1.3,"v":4},{"s":4,"t":1.7,"v":4.8},{"s":4,"t":2.1,"v":3.2},{"s":4,"t":2.5,"v":4},{"s":4,"t":2.9,"v":2.6},{"s":4,"t":3.3,"v":3.4},{"s":4,"t":3.7,"v":5},{"s":4,"t":4,"v":8},{"s":4,"t":4.3,"v":12.3},
{"s":5,"t":2.5,"v":9.5},{"s":5,"t":2.9,"v":7.6},{"s":5,"t":3.3,"v":8.6},{"s":5,"t":3.7,"v":6.6},{"s":5,"t":4.1,"v":7.4},{"s":5,"t":4.5,"v":5.6},{"s":5,"t":4.9,"v":6.6},{"s":5,"t":5.3,"v":4.6},{"s":5,"t":5.7,"v":5.4},{"s":5,"t":6.1,"v":3.6},{"s":5,"t":6.5,"v":4.4},{"s":5,"t":6.9,"v":2.6},{"s":5,"t":7.3,"v":3.2},{"s":5,"t":7.7,"v":1.8},{"s":5,"t":8.1,"v":2.4},{"s":5,"t":8.5,"v":1.4},{"s":5,"t":8.9,"v":2.6},{"s":5,"t":9.3,"v":2},{"s":5,"t":9.7,"v":3.5},{"s":5,"t":10.1,"v":6.8},{"s":5,"t":10.4,"v":10.4},
{"s":6,"t":4.2,"v":-4.8},{"s":6,"t":4.6,"v":-5.8},{"s":6,"t":5,"v":-4.6},{"s":6,"t":5.4,"v":-5.6},{"s":6,"t":5.8,"v":-6.2},{"s":6,"t":6.2,"v":-5.4},{"s":6,"t":6.6,"v":-6.4},{"s":6,"t":7,"v":-5.6},{"s":6,"t":7.4,"v":-6.8},{"s":6,"t":7.8,"v":-6},{"s":6,"t":8.2,"v":-6.6},{"s":6,"t":8.6,"v":-5.4},{"s":6,"t":9,"v":-6.2},{"s":6,"t":9.4,"v":-5.4},{"s":6,"t":9.8,"v":-4.2},{"s":6,"t":10.2,"v":-3},{"s":6,"t":10.6,"v":-1.2},{"s":6,"t":11,"v":1.2},{"s":6,"t":11.4,"v":4},{"s":6,"t":11.8,"v":7.6},
{"s":7,"t":5.8,"v":7.5},{"s":7,"t":6.2,"v":6},{"s":7,"t":6.6,"v":6.8},{"s":7,"t":7,"v":5.2},{"s":7,"t":7.4,"v":6.2},{"s":7,"t":7.8,"v":4.6},{"s":7,"t":8.2,"v":5.6},{"s":7,"t":8.6,"v":4.2},{"s":7,"t":9,"v":5.2},{"s":7,"t":9.4,"v":7.8},{"s":7,"t":9.8,"v":14.4},
{"s":8,"t":7.5,"v":10},{"s":8,"t":7.9,"v":7.2},{"s":8,"t":8.3,"v":8.4},{"s":8,"t":8.7,"v":6.4},{"s":8,"t":9.1,"v":7.6},{"s":8,"t":9.5,"v":5.6},{"s":8,"t":9.9,"v":6.8},{"s":8,"t":10.3,"v":5},{"s":8,"t":10.7,"v":6},{"s":8,"t":11.1,"v":4.2},{"s":8,"t":11.5,"v":5.4},{"s":8,"t":11.9,"v":3.6},{"s":8,"t":12.3,"v":4.8},{"s":8,"t":12.7,"v":3.2},{"s":8,"t":13.1,"v":4.4},{"s":8,"t":13.5,"v":6.4},{"s":8,"t":13.9,"v":9.5},
{"s":9,"t":10.1,"v":-10},{"s":9,"t":10.5,"v":-7.5},
{"s":10,"t":9.8,"v":14.4},{"s":10,"t":10.2,"v":9.5},{"s":10,"t":10.6,"v":7},{"s":10,"t":11,"v":5},{"s":10,"t":11.4,"v":3.2},{"s":10,"t":11.8,"v":1.6},{"s":10,"t":12.2,"v":0},{"s":10,"t":12.6,"v":-1.6},{"s":10,"t":13,"v":-3},{"s":10,"t":13.4,"v":-4.5},{"s":10,"t":13.8,"v":-5.2},{"s":10,"t":14.2,"v":-6},{"s":10,"t":14.6,"v":-5.4},{"s":10,"t":15,"v":-6.4},{"s":10,"t":15.4,"v":-5.8},{"s":10,"t":15.8,"v":-6.8},{"s":10,"t":16.2,"v":-6.2},{"s":10,"t":16.6,"v":-5},{"s":10,"t":17,"v":-3.2},{"s":10,"t":17.4,"v":-1},
{"s":11,"t":12.8,"v":13.5},{"s":11,"t":13.2,"v":9},{"s":11,"t":13.6,"v":6},{"s":11,"t":14,"v":4.4},{"s":11,"t":14.4,"v":3},{"s":11,"t":14.8,"v":1.6},{"s":11,"t":15.2,"v":0.4},{"s":11,"t":15.6,"v":-0.8},{"s":11,"t":16,"v":-1.6},{"s":11,"t":16.4,"v":-2},{"s":11,"t":16.8,"v":-2.6},{"s":11,"t":17.2,"v":-2.2},{"s":11,"t":17.6,"v":-3},{"s":11,"t":18,"v":-2.6},{"s":11,"t":18.4,"v":-3.2},{"s":11,"t":18.8,"v":-2.4},{"s":11,"t":19.2,"v":-1.2},{"s":11,"t":19.6,"v":0.6},{"s":11,"t":20,"v":3.4},{"s":11,"t":20.3,"v":7},
{"s":12,"t":14.3,"v":14},{"s":12,"t":14.7,"v":9.5},{"s":12,"t":15.1,"v":6.4},{"s":12,"t":15.5,"v":4.6},{"s":12,"t":15.9,"v":3.8},{"s":12,"t":16.3,"v":3},{"s":12,"t":16.7,"v":3.4},{"s":12,"t":17.1,"v":4.4},{"s":12,"t":17.5,"v":6},{"s":12,"t":17.9,"v":9},{"s":12,"t":18.3,"v":13.5},{"s":12,"t":18.8,"v":16.4},
{"s":13,"t":15.5,"v":16.4},{"s":13,"t":15.9,"v":12},{"s":13,"t":16.3,"v":8.6},{"s":13,"t":16.7,"v":6.2},{"s":13,"t":17.1,"v":4.6},{"s":13,"t":17.5,"v":3.2},{"s":13,"t":17.9,"v":2},{"s":13,"t":18.3,"v":1},{"s":13,"t":18.7,"v":0.4},{"s":13,"t":19.1,"v":0},{"s":13,"t":19.5,"v":-0.2},{"s":13,"t":19.9,"v":0.4},{"s":13,"t":20.3,"v":1.2},{"s":13,"t":20.7,"v":2.6},{"s":13,"t":21.1,"v":4.4},{"s":13,"t":21.5,"v":6.8},{"s":13,"t":21.9,"v":9.8},{"s":13,"t":22.3,"v":13},{"s":13,"t":22.6,"v":15},
{"s":14,"t":18.8,"v":16.4},{"s":14,"t":19.2,"v":11.4},{"s":14,"t":19.6,"v":8.2},{"s":14,"t":20,"v":6.4},{"s":14,"t":20.4,"v":5.6},{"s":14,"t":20.8,"v":6.8},{"s":14,"t":21.2,"v":8.4},{"s":14,"t":21.6,"v":9},{"s":14,"t":22,"v":8.4},{"s":14,"t":22.4,"v":9.2},{"s":14,"t":22.8,"v":8.6},{"s":14,"t":23.2,"v":9},{"s":14,"t":23.6,"v":8.4},{"s":14,"t":24,"v":8.8},
{"s":15,"t":20.2,"v":15.8},{"s":15,"t":20.6,"v":11},{"s":15,"t":21,"v":7.8},{"s":15,"t":21.4,"v":5.4},{"s":15,"t":21.8,"v":3.6},{"s":15,"t":22.2,"v":1.8},{"s":15,"t":22.6,"v":0.4},{"s":15,"t":23,"v":-0.8},{"s":15,"t":23.4,"v":-2},{"s":15,"t":23.8,"v":-3.2},{"s":15,"t":24,"v":-4},
{"s":16,"t":21.8,"v":-10},{"s":16,"t":22.2,"v":-7.8},
{"s":17,"t":17,"v":-1.5},{"s":17,"t":17.4,"v":-2.4},{"s":17,"t":17.8,"v":-2},{"s":17,"t":18.2,"v":-2.8},{"s":17,"t":18.6,"v":-2.2},{"s":17,"t":19,"v":-3.4},{"s":17,"t":19.4,"v":-2.8},{"s":17,"t":19.8,"v":-3.6},{"s":17,"t":20.2,"v":-3},{"s":17,"t":20.6,"v":-2.2},{"s":17,"t":21,"v":-0.8},{"s":17,"t":21.4,"v":1.2},{"s":17,"t":21.8,"v":3.8},{"s":17,"t":22.2,"v":7.2},{"s":17,"t":22.6,"v":10.4},
{"s":18,"t":23.2,"v":12},{"s":18,"t":23.5,"v":7.5},{"s":18,"t":23.8,"v":5.2},{"s":18,"t":24,"v":4.5}
],
"i":[
{"s":1,"t":0,"v":14},{"s":1,"t":0.2,"v":8},{"s":1,"t":0.5,"v":5},{"s":1,"t":0.8,"v":6},{"s":1,"t":1.1,"v":4},{"s":1,"t":1.4,"v":5.5},{"s":1,"t":1.7,"v":3.5},{"s":1,"t":2,"v":4.5},{"s":1,"t":2.3,"v":6},{"s":1,"t":2.6,"v":13},
{"s":2,"t":0,"v":8.5},{"s":2,"t":0.3,"v":7},{"s":2,"t":0.6,"v":8.5},{"s":2,"t":0.9,"v":6.5},{"s":2,"t":1.2,"v":7.5},{"s":2,"t":1.5,"v":10},{"s":2,"t":1.8,"v":14},
{"s":3,"t":0,"v":4},{"s":3,"t":0.4,"v":3},{"s":3,"t":0.8,"v":4.5},{"s":3,"t":1.2,"v":2.5},{"s":3,"t":1.6,"v":3.5},{"s":3,"t":2,"v":2},{"s":3,"t":2.4,"v":3.5},{"s":3,"t":2.8,"v":2.5},{"s":3,"t":3.2,"v":4},{"s":3,"t":3.6,"v":3},{"s":3,"t":4,"v":5},{"s":3,"t":4.3,"v":7},
{"s":4,"t":1.8,"v":14},{"s":4,"t":2.1,"v":8},{"s":4,"t":2.5,"v":5.5},{"s":4,"t":2.9,"v":6.5},{"s":4,"t":3.3,"v":4.5},{"s":4,"t":3.7,"v":5.5},{"s":4,"t":4.1,"v":3.5},{"s":4,"t":4.5,"v":5},{"s":4,"t":4.9,"v":7},{"s":4,"t":5.2,"v":12},
{"s":5,"t":0.5,"v":5.5},{"s":5,"t":0.9,"v":4.5},{"s":5,"t":1.3,"v":6},{"s":5,"t":1.7,"v":4},{"s":5,"t":2.1,"v":5},{"s":5,"t":2.5,"v":3.5},{"s":5,"t":2.9,"v":4.5},{"s":5,"t":3.3,"v":3},{"s":5,"t":3.7,"v":4},{"s":5,"t":4.1,"v":2.5},{"s":5,"t":4.5,"v":3.5},{"s":5,"t":4.9,"v":2},{"s":5,"t":5.3,"v":3},{"s":5,"t":5.7,"v":1.5},{"s":5,"t":6.1,"v":2.5},{"s":5,"t":6.5,"v":4},{"s":5,"t":6.8,"v":8},
{"s":6,"t":2.6,"v":13},{"s":6,"t":2.9,"v":7},{"s":6,"t":3.3,"v":5},{"s":6,"t":3.7,"v":3.5},{"s":6,"t":4.1,"v":4.5},{"s":6,"t":4.5,"v":2.5},{"s":6,"t":4.9,"v":3.5},{"s":6,"t":5.3,"v":1},{"s":6,"t":5.7,"v":2},{"s":6,"t":6.1,"v":0},{"s":6,"t":6.5,"v":1},{"s":6,"t":6.9,"v":0.5},{"s":6,"t":7.3,"v":2},{"s":6,"t":7.6,"v":9},
{"s":7,"t":3.5,"v":6},{"s":7,"t":3.9,"v":4},{"s":7,"t":4.3,"v":5},{"s":7,"t":4.7,"v":3},{"s":7,"t":5.1,"v":4},{"s":7,"t":5.5,"v":1.5},{"s":7,"t":5.9,"v":2.5},{"s":7,"t":6.3,"v":1},{"s":7,"t":6.7,"v":2},{"s":7,"t":7.1,"v":0.5},{"s":7,"t":7.5,"v":1.5},{"s":7,"t":7.9,"v":0},{"s":7,"t":8.3,"v":2},{"s":7,"t":8.7,"v":4},{"s":7,"t":9,"v":10},
{"s":8,"t":5.2,"v":12},{"s":8,"t":5.5,"v":7},{"s":8,"t":5.9,"v":4},{"s":8,"t":6.3,"v":5},{"s":8,"t":6.7,"v":3},{"s":8,"t":7.1,"v":4},{"s":8,"t":7.5,"v":2},{"s":8,"t":7.9,"v":3},{"s":8,"t":8.3,"v":1.5},{"s":8,"t":8.7,"v":3},{"s":8,"t":9.1,"v":2.5},{"s":8,"t":9.5,"v":4},{"s":8,"t":9.9,"v":6},{"s":8,"t":10.2,"v":9.5},
{"s":9,"t":7.6,"v":9},{"s":9,"t":7.9,"v":5},{"s":9,"t":8.3,"v":3},{"s":9,"t":8.7,"v":4},{"s":9,"t":9.1,"v":2.5},{"s":9,"t":9.5,"v":3.5},{"s":9,"t":9.9,"v":2.5},{"s":9,"t":10.3,"v":4},{"s":9,"t":10.7,"v":3.5},{"s":9,"t":11.1,"v":5},{"s":9,"t":11.5,"v":7},{"s":9,"t":11.8,"v":11},
{"s":10,"t":9,"v":10},{"s":10,"t":9.3,"v":6},{"s":10,"t":9.7,"v":4.5},{"s":10,"t":10.1,"v":5.5},{"s":10,"t":10.5,"v":3.5},{"s":10,"t":10.9,"v":5},{"s":10,"t":11.3,"v":4},{"s":10,"t":11.7,"v":5.5},{"s":10,"t":12.1,"v":4.5},{"s":10,"t":12.5,"v":6},{"s":10,"t":12.9,"v":8},{"s":10,"t":13.2,"v":13},
{"s":11,"t":10.5,"v":13},{"s":11,"t":10.8,"v":8},{"s":11,"t":11.2,"v":6},{"s":11,"t":11.6,"v":7},{"s":11,"t":12,"v":5},{"s":11,"t":12.4,"v":6.5},{"s":11,"t":12.8,"v":5},{"s":11,"t":13.2,"v":6.5},{"s":11,"t":13.6,"v":5.5},{"s":11,"t":14,"v":7},{"s":11,"t":14.3,"v":9},{"s":11,"t":14.6,"v":14},
{"s":12,"t":11.8,"v":11},{"s":12,"t":12.1,"v":7},{"s":12,"t":12.5,"v":5.5},{"s":12,"t":12.9,"v":6.5},{"s":12,"t":13.3,"v":5},{"s":12,"t":13.7,"v":6},{"s":12,"t":14.1,"v":4.5},{"s":12,"t":14.5,"v":6},{"s":12,"t":14.9,"v":5},{"s":12,"t":15.3,"v":7},{"s":12,"t":15.7,"v":9},{"s":12,"t":16,"v":15},
{"s":13,"t":13.2,"v":13},{"s":13,"t":13.5,"v":9},{"s":13,"t":13.9,"v":6.5},{"s":13,"t":14.3,"v":7.5},{"s":13,"t":14.7,"v":5.5},{"s":13,"t":15.1,"v":7},{"s":13,"t":15.5,"v":6},{"s":13,"t":15.9,"v":7.5},{"s":13,"t":16.3,"v":6},{"s":13,"t":16.7,"v":8},{"s":13,"t":17,"v":14},
{"s":14,"t":13.5,"v":15},{"s":14,"t":13.8,"v":10},{"s":14,"t":14.2,"v":8},{"s":14,"t":14.6,"v":9},{"s":14,"t":15,"v":7.5},{"s":14,"t":15.4,"v":8.5},{"s":14,"t":15.8,"v":7},{"s":14,"t":16.2,"v":8},{"s":14,"t":16.6,"v":6.5},{"s":14,"t":17,"v":7.5},{"s":14,"t":17.4,"v":9},{"s":14,"t":17.7,"v":11},{"s":14,"t":18,"v":18},
{"s":15,"t":14.6,"v":14},{"s":15,"t":14.9,"v":9},{"s":15,"t":15.3,"v":7},{"s":15,"t":15.7,"v":8},{"s":15,"t":16.1,"v":6},{"s":15,"t":16.5,"v":7},{"s":15,"t":16.9,"v":5.5},{"s":15,"t":17.3,"v":6.5},{"s":15,"t":17.7,"v":5},{"s":15,"t":18.1,"v":6},{"s":15,"t":18.5,"v":8},{"s":15,"t":18.8,"v":11},{"s":15,"t":19.1,"v":16},
{"s":16,"t":16,"v":15},{"s":16,"t":16.3,"v":10},{"s":16,"t":16.7,"v":7.5},{"s":16,"t":17.1,"v":8.5},{"s":16,"t":17.5,"v":6.5},{"s":16,"t":17.9,"v":7.5},{"s":16,"t":18.3,"v":6},{"s":16,"t":18.7,"v":7.5},{"s":16,"t":19.1,"v":6},{"s":16,"t":19.5,"v":8},{"s":16,"t":19.8,"v":10},{"s":16,"t":20.1,"v":14},
{"s":17,"t":17,"v":14},{"s":17,"t":17.3,"v":9},{"s":17,"t":17.7,"v":7},{"s":17,"t":18.1,"v":7.5},{"s":17,"t":18.5,"v":6},{"s":17,"t":18.9,"v":7},{"s":17,"t":19.3,"v":5.5},{"s":17,"t":19.7,"v":6.5},{"s":17,"t":20.1,"v":5.5},{"s":17,"t":20.5,"v":7},{"s":17,"t":20.9,"v":9},{"s":17,"t":21.2,"v":12},{"s":17,"t":21.5,"v":15},
{"s":18,"t":18,"v":18},{"s":18,"t":18.3,"v":11},{"s":18,"t":18.7,"v":8},{"s":18,"t":19.1,"v":8.5},{"s":18,"t":19.5,"v":7},{"s":18,"t":19.9,"v":7.5},{"s":18,"t":20.3,"v":6},{"s":18,"t":20.7,"v":7},{"s":18,"t":21.1,"v":6},{"s":18,"t":21.5,"v":6.5},{"s":18,"t":21.9,"v":8},{"s":18,"t":22.2,"v":11},{"s":18,"t":22.5,"v":14},
{"s":19,"t":19.1,"v":16},{"s":19,"t":19.4,"v":10},{"s":19,"t":19.8,"v":7.5},{"s":19,"t":20.2,"v":6.5},{"s":19,"t":20.6,"v":5.5},{"s":19,"t":21,"v":6},{"s":19,"t":21.4,"v":5},{"s":19,"t":21.8,"v":5.5},{"s":19,"t":22.2,"v":4.5},{"s":19,"t":22.6,"v":5},{"s":19,"t":23,"v":6.5},{"s":19,"t":23.3,"v":11},
{"s":20,"t":20.1,"v":14},{"s":20,"t":20.4,"v":9},{"s":20,"t":20.8,"v":7},{"s":20,"t":21.2,"v":6},{"s":20,"t":21.6,"v":5},{"s":20,"t":22,"v":5.5},{"s":20,"t":22.4,"v":4.5},{"s":20,"t":22.8,"v":4},{"s":20,"t":23.2,"v":4.5},{"s":20,"t":23.6,"v":4},{"s":20,"t":24,"v":4.5},
{"s":21,"t":21.5,"v":15},{"s":21,"t":21.8,"v":10},{"s":21,"t":22.2,"v":7},{"s":21,"t":22.6,"v":5.5},{"s":21,"t":23,"v":4.5},{"s":21,"t":23.4,"v":3.5},{"s":21,"t":23.8,"v":3},{"s":21,"t":24,"v":3},
{"s":22,"t":22.5,"v":14},{"s":22,"t":22.8,"v":9},{"s":22,"t":23.2,"v":6},{"s":22,"t":23.6,"v":4.5},{"s":22,"t":24,"v":4},
{"s":23,"t":23.3,"v":11},{"s":23,"t":23.6,"v":7},{"s":23,"t":24,"v":5},
{"s":24,"t":23.4,"v":6},{"s":24,"t":23.7,"v":7.5},{"s":24,"t":24,"v":9.5},
{"s":25,"t":0,"v":3},{"s":25,"t":0.5,"v":2},{"s":25,"t":1,"v":2.5},{"s":25,"t":1.5,"v":1.5},{"s":25,"t":2,"v":2},{"s":25,"t":2.5,"v":1},{"s":25,"t":3,"v":1.5},{"s":25,"t":3.5,"v":0.5},{"s":25,"t":4,"v":0},{"s":25,"t":4.5,"v":-0.5},{"s":25,"t":5,"v":0.5},{"s":25,"t":5.5,"v":-0.3},{"s":25,"t":6,"v":0.5},
{"s":26,"t":7,"v":3},{"s":26,"t":7.3,"v":2},{"s":26,"t":7.6,"v":3},{"s":26,"t":7.9,"v":1.5},{"s":26,"t":8.2,"v":2.5},{"s":26,"t":8.5,"v":1.8},{"s":26,"t":8.8,"v":3},{"s":26,"t":9.1,"v":2.2},{"s":26,"t":9.4,"v":3.4},{"s":26,"t":9.7,"v":2.6},{"s":26,"t":10,"v":3.8},{"s":26,"t":10.3,"v":3},{"s":26,"t":10.6,"v":4.2},{"s":26,"t":10.9,"v":3.4},{"s":26,"t":11.2,"v":4.6},{"s":26,"t":11.5,"v":3.8},{"s":26,"t":11.8,"v":5},{"s":26,"t":12.1,"v":4.2},{"s":26,"t":12.4,"v":5.4},
{"s":27,"t":12,"v":6},{"s":27,"t":12.3,"v":5},{"s":27,"t":12.6,"v":6.2},{"s":27,"t":12.9,"v":5.2},{"s":27,"t":13.2,"v":6.6},{"s":27,"t":13.5,"v":5.6},{"s":27,"t":13.8,"v":7},{"s":27,"t":14.1,"v":6},{"s":27,"t":14.4,"v":7.4},{"s":27,"t":14.7,"v":6.4},{"s":27,"t":15,"v":7.6},{"s":27,"t":15.3,"v":6.6},{"s":27,"t":15.6,"v":7.8},{"s":27,"t":15.9,"v":6.8},{"s":27,"t":16.2,"v":8},{"s":27,"t":16.5,"v":7},{"s":27,"t":16.8,"v":8.2},{"s":27,"t":17.1,"v":7.2},{"s":27,"t":17.4,"v":8},
{"s":28,"t":18,"v":7},{"s":28,"t":18.3,"v":6},{"s":28,"t":18.6,"v":7.2},{"s":28,"t":18.9,"v":6.2},{"s":28,"t":19.2,"v":7.4},{"s":28,"t":19.5,"v":6.4},{"s":28,"t":19.8,"v":7.2},{"s":28,"t":20.1,"v":6.2},{"s":28,"t":20.4,"v":7},{"s":28,"t":20.7,"v":6},{"s":28,"t":21,"v":6.8},{"s":28,"t":21.3,"v":5.8},{"s":28,"t":21.6,"v":6.4},{"s":28,"t":21.9,"v":5.4},{"s":28,"t":22.2,"v":6},{"s":28,"t":22.5,"v":5},{"s":28,"t":22.8,"v":5.4},
{"s":29,"t":1,"v":4},{"s":29,"t":1.3,"v":3},{"s":29,"t":1.6,"v":4.2},{"s":29,"t":1.9,"v":2.8},{"s":29,"t":2.2,"v":3.8},{"s":29,"t":2.5,"v":2.4},{"s":29,"t":2.8,"v":3.4},{"s":29,"t":3.1,"v":2},{"s":29,"t":3.4,"v":3},{"s":29,"t":3.7,"v":1.6},{"s":29,"t":4,"v":2.6},{"s":29,"t":4.3,"v":1.2},{"s":29,"t":4.6,"v":2.2},{"s":29,"t":4.9,"v":0.8},{"s":29,"t":5.2,"v":1.8},{"s":29,"t":5.5,"v":0.4},{"s":29,"t":5.8,"v":1.4}
],
"j":[
{"s":1,"t":0,"v":15},{"s":1,"t":0.2,"v":11},{"s":1,"t":0.5,"v":9.5},{"s":1,"t":0.8,"v":10.5},{"s":1,"t":1.1,"v":9},{"s":1,"t":1.4,"v":10},{"s":1,"t":1.7,"v":12},{"s":1,"t":2,"v":16},
{"s":2,"t":0,"v":11},{"s":2,"t":0.3,"v":9},{"s":2,"t":0.6,"v":10},{"s":2,"t":0.9,"v":8},{"s":2,"t":1.2,"v":9},{"s":2,"t":1.5,"v":7.5},{"s":2,"t":1.8,"v":8.5},{"s":2,"t":2.1,"v":7},{"s":2,"t":2.4,"v":8},{"s":2,"t":2.7,"v":9.5},{"s":2,"t":3,"v":14},
{"s":3,"t":0,"v":7},{"s":3,"t":0.4,"v":5.5},{"s":3,"t":0.8,"v":6.5},{"s":3,"t":1.2,"v":5},{"s":3,"t":1.6,"v":6},{"s":3,"t":2,"v":4.5},{"s":3,"t":2.4,"v":5.5},{"s":3,"t":2.8,"v":4},{"s":3,"t":3.2,"v":5},{"s":3,"t":3.6,"v":6.5},{"s":3,"t":4,"v":9},
{"s":4,"t":0,"v":5},{"s":4,"t":0.4,"v":4},{"s":4,"t":0.8,"v":5},{"s":4,"t":1.2,"v":3.5},{"s":4,"t":1.6,"v":4.5},{"s":4,"t":2,"v":3},{"s":4,"t":2.4,"v":4},{"s":4,"t":2.8,"v":2.5},{"s":4,"t":3.2,"v":3.5},{"s":4,"t":3.6,"v":2},{"s":4,"t":4,"v":3},{"s":4,"t":4.4,"v":1.5},{"s":4,"t":4.8,"v":2.5},{"s":4,"t":5.2,"v":2},{"s":4,"t":5.6,"v":3.5},{"s":4,"t":6,"v":6},
{"s":5,"t":2,"v":16},{"s":5,"t":2.3,"v":10},{"s":5,"t":2.7,"v":7.5},{"s":5,"t":3.1,"v":8.5},{"s":5,"t":3.5,"v":6.5},{"s":5,"t":3.9,"v":7.5},{"s":5,"t":4.3,"v":6},{"s":5,"t":4.7,"v":7},{"s":5,"t":5.1,"v":6},{"s":5,"t":5.5,"v":8},{"s":5,"t":5.8,"v":12},
{"s":6,"t":3,"v":14},{"s":6,"t":3.3,"v":9},{"s":6,"t":3.7,"v":7},{"s":6,"t":4.1,"v":8},{"s":6,"t":4.5,"v":5.5},{"s":6,"t":4.9,"v":6.5},{"s":6,"t":5.3,"v":4.5},{"s":6,"t":5.7,"v":5.5},{"s":6,"t":6.1,"v":3.5},{"s":6,"t":6.5,"v":4.5},{"s":6,"t":6.9,"v":3},{"s":6,"t":7.3,"v":5},{"s":6,"t":7.6,"v":9},
{"s":7,"t":4,"v":9},{"s":7,"t":4.4,"v":6.5},{"s":7,"t":4.8,"v":7.5},{"s":7,"t":5.2,"v":5},{"s":7,"t":5.6,"v":6},{"s":7,"t":6,"v":3},{"s":7,"t":6.4,"v":4},{"s":7,"t":6.8,"v":1.5},{"s":7,"t":7.2,"v":2.5},{"s":7,"t":7.6,"v":1},{"s":7,"t":8,"v":2},{"s":7,"t":8.4,"v":3.5},{"s":7,"t":8.8,"v":6},{"s":7,"t":9.1,"v":11},
{"s":8,"t":5.8,"v":12},{"s":8,"t":6.1,"v":7},{"s":8,"t":6.5,"v":4},{"s":8,"t":6.9,"v":3},{"s":8,"t":7.3,"v":4},{"s":8,"t":7.7,"v":2},{"s":8,"t":8.1,"v":3},{"s":8,"t":8.5,"v":2.5},{"s":8,"t":8.9,"v":4},{"s":8,"t":9.3,"v":3.5},{"s":8,"t":9.7,"v":5},{"s":8,"t":10.1,"v":8},{"s":8,"t":10.4,"v":13},
{"s":9,"t":6,"v":2},{"s":9,"t":6.3,"v":0.8},{"s":9,"t":6.6,"v":1.5},{"s":9,"t":6.9,"v":0.5},{"s":9,"t":7.2,"v":1.2},{"s":9,"t":7.5,"v":2},{"s":9,"t":7.8,"v":3.5},
{"s":10,"t":7.6,"v":9},{"s":10,"t":7.9,"v":6},{"s":10,"t":8.3,"v":4.5},{"s":10,"t":8.7,"v":5.5},{"s":10,"t":9.1,"v":4},{"s":10,"t":9.5,"v":5},{"s":10,"t":9.9,"v":4},{"s":10,"t":10.3,"v":5.5},{"s":10,"t":10.7,"v":5},{"s":10,"t":11.1,"v":6.5},{"s":10,"t":11.5,"v":9},{"s":10,"t":11.8,"v":14},
{"s":11,"t":9.1,"v":11},{"s":11,"t":9.4,"v":7.5},{"s":11,"t":9.8,"v":6},{"s":11,"t":10.2,"v":7},{"s":11,"t":10.6,"v":5.5},{"s":11,"t":11,"v":6.5},{"s":11,"t":11.4,"v":5.5},{"s":11,"t":11.8,"v":7},{"s":11,"t":12.2,"v":6.5},{"s":11,"t":12.6,"v":8},{"s":11,"t":13,"v":10},{"s":11,"t":13.3,"v":14},
{"s":12,"t":10.4,"v":13},{"s":12,"t":10.7,"v":9},{"s":12,"t":11.1,"v":7},{"s":12,"t":11.5,"v":8},{"s":12,"t":11.9,"v":6.5},{"s":12,"t":12.3,"v":7.5},{"s":12,"t":12.7,"v":7},{"s":12,"t":13.1,"v":8.5},{"s":12,"t":13.5,"v":8},{"s":12,"t":13.9,"v":9.5},{"s":12,"t":14.2,"v":12},{"s":12,"t":14.5,"v":17},
{"s":13,"t":11.8,"v":14},{"s":13,"t":12.1,"v":10},{"s":13,"t":12.5,"v":8},{"s":13,"t":12.9,"v":9},{"s":13,"t":13.3,"v":7.5},{"s":13,"t":13.7,"v":9},{"s":13,"t":14.1,"v":8.5},{"s":13,"t":14.5,"v":10},{"s":13,"t":14.9,"v":9},{"s":13,"t":15.3,"v":10.5},{"s":13,"t":15.6,"v":13},{"s":13,"t":15.9,"v":16},
{"s":14,"t":13.3,"v":14},{"s":14,"t":13.6,"v":11},{"s":14,"t":14,"v":9.5},{"s":14,"t":14.4,"v":10.5},{"s":14,"t":14.8,"v":9},{"s":14,"t":15.2,"v":10.5},{"s":14,"t":15.6,"v":9},{"s":14,"t":16,"v":10},{"s":14,"t":16.4,"v":8.5},{"s":14,"t":16.8,"v":9.5},{"s":14,"t":17.1,"v":12},{"s":14,"t":17.4,"v":17},
{"s":15,"t":14.5,"v":17},{"s":15,"t":14.8,"v":12},{"s":15,"t":15.2,"v":10},{"s":15,"t":15.6,"v":11},{"s":15,"t":16,"v":9},{"s":15,"t":16.4,"v":10},{"s":15,"t":16.8,"v":8.5},{"s":15,"t":17.2,"v":9.5},{"s":15,"t":17.6,"v":8},{"s":15,"t":18,"v":9},{"s":15,"t":18.3,"v":12},{"s":15,"t":18.6,"v":19},
{"s":16,"t":15.9,"v":16},{"s":16,"t":16.2,"v":11},{"s":16,"t":16.6,"v":9},{"s":16,"t":17,"v":9.5},{"s":16,"t":17.4,"v":8},{"s":16,"t":17.8,"v":9},{"s":16,"t":18.2,"v":7.5},{"s":16,"t":18.6,"v":8.5},{"s":16,"t":19,"v":7.5},{"s":16,"t":19.4,"v":9},{"s":16,"t":19.7,"v":12},{"s":16,"t":20,"v":17},
{"s":17,"t":17.4,"v":17},{"s":17,"t":17.7,"v":12},{"s":17,"t":18.1,"v":9.5},{"s":17,"t":18.5,"v":10},{"s":17,"t":18.9,"v":8.5},{"s":17,"t":19.3,"v":9.5},{"s":17,"t":19.7,"v":8},{"s":17,"t":20.1,"v":9},{"s":17,"t":20.5,"v":8},{"s":17,"t":20.9,"v":9.5},{"s":17,"t":21.2,"v":12},{"s":17,"t":21.5,"v":16},
{"s":18,"t":18.6,"v":19},{"s":18,"t":18.9,"v":13},{"s":18,"t":19.3,"v":10},{"s":18,"t":19.7,"v":9.5},{"s":18,"t":20.1,"v":8},{"s":18,"t":20.5,"v":8.5},{"s":18,"t":20.9,"v":7},{"s":18,"t":21.3,"v":7.5},{"s":18,"t":21.7,"v":6.5},{"s":18,"t":22.1,"v":7},{"s":18,"t":22.4,"v":10},{"s":18,"t":22.7,"v":16},
{"s":19,"t":20,"v":17},{"s":19,"t":20.3,"v":12},{"s":19,"t":20.7,"v":9},{"s":19,"t":21.1,"v":8},{"s":19,"t":21.5,"v":7},{"s":19,"t":21.9,"v":7.5},{"s":19,"t":22.3,"v":6},{"s":19,"t":22.7,"v":6.5},{"s":19,"t":23.1,"v":5.5},{"s":19,"t":23.5,"v":5},{"s":19,"t":24,"v":5.5},
{"s":20,"t":21.5,"v":16},{"s":20,"t":21.8,"v":11},{"s":20,"t":22.2,"v":8},{"s":20,"t":22.6,"v":7},{"s":20,"t":23,"v":6},{"s":20,"t":23.4,"v":5},{"s":20,"t":23.8,"v":4.5},{"s":20,"t":24,"v":4},
{"s":21,"t":22.7,"v":16},{"s":21,"t":23,"v":11},{"s":21,"t":23.4,"v":8},{"s":21,"t":23.8,"v":7},{"s":21,"t":24,"v":7.5},
{"s":22,"t":23.2,"v":7},{"s":22,"t":23.5,"v":8.5},{"s":22,"t":23.8,"v":10.5},{"s":22,"t":24,"v":12.4},
{"s":23,"t":12,"v":5},{"s":23,"t":12.4,"v":4},{"s":23,"t":12.8,"v":5},{"s":23,"t":13.2,"v":4.5},{"s":23,"t":13.6,"v":6},{"s":23,"t":14,"v":5.5},{"s":23,"t":14.4,"v":7},{"s":23,"t":14.8,"v":6.5},{"s":23,"t":15.2,"v":8},
{"s":24,"t":0,"v":8.5},{"s":24,"t":0.3,"v":7.5},{"s":24,"t":0.6,"v":8.7},{"s":24,"t":0.9,"v":7.2},{"s":24,"t":1.2,"v":8.2},{"s":24,"t":1.5,"v":6.8},{"s":24,"t":1.8,"v":7.8},{"s":24,"t":2.1,"v":6.4},{"s":24,"t":2.4,"v":7.4},{"s":24,"t":2.7,"v":6},{"s":24,"t":3,"v":7},{"s":24,"t":3.3,"v":5.6},{"s":24,"t":3.6,"v":6.6},{"s":24,"t":3.9,"v":5.2},{"s":24,"t":4.2,"v":6.2},{"s":24,"t":4.5,"v":4.8},{"s":24,"t":4.8,"v":5.8},{"s":24,"t":5.1,"v":4.4},{"s":24,"t":5.4,"v":5.4},{"s":24,"t":5.7,"v":4},{"s":24,"t":6,"v":5},
{"s":25,"t":8,"v":4},{"s":25,"t":8.3,"v":3.2},{"s":25,"t":8.6,"v":4.4},{"s":25,"t":8.9,"v":3.6},{"s":25,"t":9.2,"v":4.8},{"s":25,"t":9.5,"v":4},{"s":25,"t":9.8,"v":5.2},{"s":25,"t":10.1,"v":4.4},{"s":25,"t":10.4,"v":5.6},{"s":25,"t":10.7,"v":4.8},{"s":25,"t":11,"v":6},{"s":25,"t":11.3,"v":5.2},{"s":25,"t":11.6,"v":6.4},{"s":25,"t":11.9,"v":5.6},{"s":25,"t":12.2,"v":6.8},
{"s":26,"t":15,"v":8},{"s":26,"t":15.3,"v":7},{"s":26,"t":15.6,"v":8.4},{"s":26,"t":15.9,"v":7.4},{"s":26,"t":16.2,"v":8.8},{"s":26,"t":16.5,"v":7.8},{"s":26,"t":16.8,"v":9},{"s":26,"t":17.1,"v":8},{"s":26,"t":17.4,"v":9.2},{"s":26,"t":17.7,"v":8.2},{"s":26,"t":18,"v":9.4},{"s":26,"t":18.3,"v":8.4},{"s":26,"t":18.6,"v":9.2},{"s":26,"t":18.9,"v":8.2},{"s":26,"t":19.2,"v":9},{"s":26,"t":19.5,"v":8},{"s":26,"t":19.8,"v":8.8},{"s":26,"t":20.1,"v":7.8},{"s":26,"t":20.4,"v":8.6}
]
},
"columns":9,
"bounds":"flush",
"align":"each",
"spacing":{"row":62,"column":0},
"concat":[
  {"width":232,"height":138,
   "resolve":{"axis":{"x":"independent","y":"independent"}},
   "layer":[
    {"data":{"name":"ga"},"transform":[{"filter":"datum.series == 'CODE DCB correction'"}],"mark":{"type":"point","filled":true,"shape":"circle","color":"#8c8c8c","opacity":1,"size":60},
     "encoding":{
      "x":{"field":"n","type":"quantitative","scale":{"domain":[0,20],"nice":false},"axis":{"orient":"bottom","values":[0,4,8,12,16,20],"tickSize":15,"labelOverlap":false,"title":"number of GLONASS satelite","titlePadding":2}},
      "y":{"field":"v","type":"quantitative","scale":{"domain":[-40,80],"nice":false},"axis":{"orient":"left","values":[-40,-20,0,20,40,60,80],"tickSize":15,"labelOverlap":false,"title":"DCB, TECU","titlePadding":-5}}
     }},
    {"data":{"name":"ga"},"transform":[{"filter":"datum.series == 'Evaluated DCB correction'"}],"mark":{"type":"point","filled":true,"shape":"triangle-up","color":"#000000","opacity":1,"size":75},
     "encoding":{"x":{"field":"n","type":"quantitative","axis":{"orient":"bottom","values":[2,6,10,14,18],"tickSize":8,"labels":false,"domain":false,"title":null}},"y":{"field":"v","type":"quantitative","axis":{"orient":"left","values":[-30,-10,10,30,50,70],"tickSize":8,"labels":false,"domain":false,"title":null}}}},
    {"data":{"name":"ga"},"transform":[{"filter":"false"}],"mark":{"type":"point","filled":true,"opacity":1},
     "encoding":{"x":{"field":"n","type":"quantitative","axis":null},"y":{"field":"v","type":"quantitative","axis":null},
      "color":{"field":"series","type":"nominal","scale":{"domain":["CODE DCB correction","Evaluated DCB correction"],"range":["#8c8c8c","#000000"]},
        "legend":{"orient":"none","legendX":44,"legendY":-58,"title":null,"symbolSize":144,"labelFont":"Liberation Serif","labelFontSize":20,"labelColor":"black","labelOffset":9,"rowPadding":6,"padding":0,"symbolStrokeWidth":0,"symbolOpacity":1,"labelLimit":0}},
      "shape":{"field":"series","type":"nominal","scale":{"domain":["CODE DCB correction","Evaluated DCB correction"],"range":["M-13.5,0A1,1,0,1,0,-11.5,0A1,1,0,1,0,-13.5,0ZM-7,0A1,1,0,1,0,-5,0A1,1,0,1,0,-7,0ZM-1,0A1,1,0,1,0,1,0A1,1,0,1,0,-1,0Z","M-12.5,-1.05L-11.3,0.95L-13.7,0.95ZM-6,-1.05L-4.8,0.95L-7.2,0.95ZM0,-1.05L1.2,0.95L-1.2,0.95Z"]},
        "legend":{"orient":"none","legendX":44,"legendY":-58,"title":null,"symbolSize":144,"labelFont":"Liberation Serif","labelFontSize":20,"labelColor":"black","labelOffset":9,"rowPadding":6,"padding":0,"symbolStrokeWidth":0,"symbolOpacity":1,"labelLimit":0}}
     }},
    {"data":{"values":[{}]},"mark":{"type":"rule","stroke":"#3a3a3a","strokeWidth":1.5},"encoding":{"x":{"datum":-8.362,"axis":null},"x2":{"datum":105.862},"y":{"datum":131.304,"axis":null}}},
    {"data":{"values":[{}]},"mark":{"type":"rule","stroke":"#3a3a3a","strokeWidth":1.5},"encoding":{"x":{"datum":-8.362,"axis":null},"y":{"datum":131.304,"axis":null},"y2":{"datum":-273.04}}},
    {"data":{"values":[{}]},"mark":{"type":"rule","stroke":"#3a3a3a","strokeWidth":1.5},"encoding":{"x":{"datum":105.862,"axis":null},"y":{"datum":131.304,"axis":null},"y2":{"datum":-273.04}}},
    {"data":{"values":[{}]},"mark":{"type":"text","font":"Liberation Serif","fontSize":27,"angle":270,"align":"center","baseline":"middle","color":"black"},"encoding":{"x":{"datum":-6.9,"axis":null},"y":{"datum":19.1,"axis":null},"text":{"value":"GLONASS"}}},
    {"data":{"values":[{}]},"mark":{"type":"text","font":"Liberation Serif","fontSize":20,"fontWeight":"bold","align":"right","baseline":"middle","color":"black"},"encoding":{"x":{"datum":20.26,"axis":null},"y":{"datum":66.1,"axis":null},"text":{"value":"(a)"}}}
   ]},
  {"width":74,"height":138,"data":{"values":[]},"mark":"point"},
  {"width":199,"height":138,
   "resolve":{"axis":{"x":"independent","y":"independent"}},
   "layer":[
    {"data":{"name":"b"},"mark":{"type":"line","stroke":"#000000","strokeWidth":1,"clip":true},
     "encoding":{"x":{"field":"t","type":"quantitative","scale":{"domain":[0,24],"nice":false},"axis":{"orient":"bottom","values":[0,4,8,12,16,20,24],"tickSize":15,"labels":false,"title":null}},
      "y":{"field":"v","type":"quantitative","scale":{"domain":[-10,60],"nice":false},"axis":{"orient":"left","values":[0,20,40,60],"tickSize":15,"labelOverlap":false,"title":"I, TECU","titleFontSize":18,"titlePadding":-3}},
      "detail":{"field":"s","type":"nominal"}}},
    {"data":{"name":"m"},"transform":[{"filter":"datum.p == 'b'"}],"mark":{"type":"line","stroke":"#5c5c5c","strokeWidth":4},"encoding":{"x":{"field":"t","type":"quantitative","axis":{"orient":"bottom","values":[2,6,10,14,18,22],"tickSize":8,"labels":false,"domain":false,"title":null}},"y":{"field":"v","type":"quantitative","axis":{"orient":"left","values":[-10,10,30,50],"tickSize":8,"labels":false,"domain":false,"title":null}}}},
    {"data":{"values":[{}]},"mark":{"type":"rule","stroke":"#a9a9a9","strokeWidth":3.5},"encoding":{"y":{"datum":0,"axis":null}}},
    {"data":{"name":"m"},"transform":[{"filter":"datum.p == 'b'"}],"mark":{"type":"line","stroke":"#5c5c5c","strokeWidth":4},"encoding":{"x":{"field":"t","type":"quantitative","axis":null},"y":{"field":"v","type":"quantitative","axis":null}}},
    {"data":{"values":[{}]},"mark":{"type":"text","font":"Liberation Serif","fontSize":20,"fontWeight":"bold","align":"right","baseline":"middle","color":"black"},"encoding":{"x":{"datum":21.35,"axis":null},"y":{"datum":55.43,"axis":null},"text":{"value":"(b)"}}},
    {"data":{"values":[{}]},"mark":{"type":"text","font":"Liberation Serif","fontSize":20,"align":"center","baseline":"alphabetic","color":"black"},"encoding":{"x":{"datum":13.63,"axis":null},"y":{"datum":66.34,"axis":null},"text":{"value":"Evaluated DCB correction"}}},
    {"data":{"values":[{}]},"mark":{"type":"text","font":"Liberation Serif","fontSize":20,"align":"center","baseline":"alphabetic","color":"black"},"encoding":{"x":{"datum":27.62,"axis":null},"y":{"datum":77.25,"axis":null},"text":{"value":"IRKJ"}}}
   ]},
  {"width":31,"height":138,"data":{"values":[]},"mark":"point"},
  {"width":199,"height":138,
   "resolve":{"axis":{"x":"independent","y":"independent"}},
   "layer":[
    {"data":{"name":"c"},"mark":{"type":"line","stroke":"#000000","strokeWidth":1,"clip":true},
     "encoding":{"x":{"field":"t","type":"quantitative","scale":{"domain":[0,24],"nice":false},"axis":{"orient":"bottom","values":[0,4,8,12,16,20,24],"tickSize":15,"labels":false,"title":null}},
      "y":{"field":"v","type":"quantitative","scale":{"domain":[-10,60],"nice":false},"axis":{"orient":"left","values":[0,20,40,60],"tickSize":15,"labels":false,"title":null}},
      "detail":{"field":"s","type":"nominal"}}},
    {"data":{"name":"m"},"transform":[{"filter":"datum.p == 'c'"}],"mark":{"type":"line","stroke":"#5c5c5c","strokeWidth":4},"encoding":{"x":{"field":"t","type":"quantitative","axis":{"orient":"bottom","values":[2,6,10,14,18,22],"tickSize":8,"labels":false,"domain":false,"title":null}},"y":{"field":"v","type":"quantitative","axis":{"orient":"left","values":[-10,10,30,50],"tickSize":8,"labels":false,"domain":false,"title":null}}}},
    {"data":{"values":[{}]},"mark":{"type":"rule","stroke":"#a9a9a9","strokeWidth":3.5},"encoding":{"y":{"datum":0,"axis":null}}},
    {"data":{"name":"m"},"transform":[{"filter":"datum.p == 'c'"}],"mark":{"type":"line","stroke":"#5c5c5c","strokeWidth":4},"encoding":{"x":{"field":"t","type":"quantitative","axis":null},"y":{"field":"v","type":"quantitative","axis":null}}},
    {"data":{"values":[{}]},"mark":{"type":"text","font":"Liberation Serif","fontSize":20,"fontWeight":"bold","align":"right","baseline":"middle","color":"black"},"encoding":{"x":{"datum":20.74,"axis":null},"y":{"datum":55.43,"axis":null},"text":{"value":"(c)"}}},
    {"data":{"values":[{}]},"mark":{"type":"text","font":"Liberation Serif","fontSize":20,"align":"center","baseline":"alphabetic","color":"black"},"encoding":{"x":{"datum":13.27,"axis":null},"y":{"datum":66.34,"axis":null},"text":{"value":"CODE DCB correction"}}}
   ]},
  {"width":55,"height":138,"data":{"values":[]},"mark":"point"},
  {"width":198,"height":138,
   "resolve":{"axis":{"x":"independent","y":"independent"}},
   "layer":[
    {"data":{"name":"d"},"mark":{"type":"line","stroke":"#000000","strokeWidth":1,"clip":true},
     "encoding":{"x":{"field":"t","type":"quantitative","scale":{"domain":[0,24],"nice":false},"axis":{"orient":"bottom","values":[0,4,8,12,16,20,24],"tickSize":15,"labels":false,"title":null}},
      "y":{"field":"v","type":"quantitative","scale":{"domain":[-10,20],"nice":false},"axis":{"orient":"left","values":[-10,0,10,20],"tickSize":15,"labelOverlap":false,"title":null}},
      "detail":{"field":"s","type":"nominal"}}},
    {"data":{"name":"m"},"transform":[{"filter":"datum.p == 'd'"}],"mark":{"type":"line","stroke":"#5c5c5c","strokeWidth":4},"encoding":{"x":{"field":"t","type":"quantitative","axis":{"orient":"bottom","values":[2,6,10,14,18,22],"tickSize":8,"labels":false,"domain":false,"title":null}},"y":{"field":"v","type":"quantitative","axis":{"orient":"left","values":[-5,5,15],"tickSize":8,"labels":false,"domain":false,"title":null}}}},
    {"data":{"values":[{}]},"mark":{"type":"rule","stroke":"#a9a9a9","strokeWidth":3.5},"encoding":{"y":{"datum":0,"axis":null}}},
    {"data":{"name":"m"},"transform":[{"filter":"datum.p == 'd'"}],"mark":{"type":"line","stroke":"#5c5c5c","strokeWidth":4},"encoding":{"x":{"field":"t","type":"quantitative","axis":null},"y":{"field":"v","type":"quantitative","axis":null}}},
    {"data":{"values":[{}]},"mark":{"type":"rule","stroke":"#3a3a3a","strokeWidth":1.5},"encoding":{"x":{"datum":-5.58,"axis":null},"y":{"datum":32.83,"axis":null},"y2":{"datum":-68.26}}},
    {"data":{"values":[{}]},"mark":{"type":"text","font":"Liberation Serif","fontSize":20,"fontWeight":"bold","align":"right","baseline":"middle","color":"black"},"encoding":{"x":{"datum":24.24,"axis":null},"y":{"datum":18.48,"axis":null},"text":{"value":"(d)"}}},
    {"data":{"values":[{}]},"mark":{"type":"text","font":"Liberation Serif","fontSize":20,"align":"center","baseline":"alphabetic","color":"black"},"encoding":{"x":{"datum":13.7,"axis":null},"y":{"datum":22.72,"axis":null},"text":{"value":"Evaluated DCB correction"}}},
    {"data":{"values":[{}]},"mark":{"type":"text","font":"Liberation Serif","fontSize":20,"align":"center","baseline":"alphabetic","color":"black"},"encoding":{"x":{"datum":29.09,"axis":null},"y":{"datum":27.39,"axis":null},"text":{"value":"THU2"}}}
   ]},
  {"width":32,"height":138,"data":{"values":[]},"mark":"point"},
  {"width":198,"height":138,
   "resolve":{"axis":{"x":"independent","y":"independent"}},
   "layer":[
    {"data":{"name":"e"},"mark":{"type":"line","stroke":"#000000","strokeWidth":1,"clip":true},
     "encoding":{"x":{"field":"t","type":"quantitative","scale":{"domain":[0,24],"nice":false},"axis":{"orient":"bottom","values":[0,4,8,12,16,20,24],"tickSize":15,"labels":false,"title":null}},
      "y":{"field":"v","type":"quantitative","scale":{"domain":[-10,20],"nice":false},"axis":{"orient":"left","values":[-10,-2.5,5,12.5,20],"tickSize":15,"labels":false,"title":null}},
      "detail":{"field":"s","type":"nominal"}}},
    {"data":{"name":"m"},"transform":[{"filter":"datum.p == 'e'"}],"mark":{"type":"line","stroke":"#5c5c5c","strokeWidth":4},"encoding":{"x":{"field":"t","type":"quantitative","axis":{"orient":"bottom","values":[2,6,10,14,18,22],"tickSize":8,"labels":false,"domain":false,"title":null}},"y":{"field":"v","type":"quantitative","axis":{"orient":"left","values":[-6.25,1.25,8.75,16.25],"tickSize":8,"labels":false,"domain":false,"title":null}}}},
    {"data":{"values":[{}]},"mark":{"type":"rule","stroke":"#a9a9a9","strokeWidth":3.5},"encoding":{"y":{"datum":-2.5,"axis":null}}},
    {"data":{"name":"m"},"transform":[{"filter":"datum.p == 'e'"}],"mark":{"type":"line","stroke":"#5c5c5c","strokeWidth":4},"encoding":{"x":{"field":"t","type":"quantitative","axis":null},"y":{"field":"v","type":"quantitative","axis":null}}},
    {"data":{"values":[{}]},"mark":{"type":"text","font":"Liberation Serif","fontSize":20,"fontWeight":"bold","align":"right","baseline":"middle","color":"black"},"encoding":{"x":{"datum":24.36,"axis":null},"y":{"datum":18.48,"axis":null},"text":{"value":"(e)"}}},
    {"data":{"values":[{}]},"mark":{"type":"text","font":"Liberation Serif","fontSize":20,"align":"center","baseline":"alphabetic","color":"black"},"encoding":{"x":{"datum":11.76,"axis":null},"y":{"datum":22.72,"axis":null},"text":{"value":"CODE DCB correction"}}}
   ]},
  {"width":232,"height":138,
   "resolve":{"axis":{"x":"independent","y":"independent"}},
   "layer":[
    {"data":{"name":"gp"},"transform":[{"filter":"datum.series == 'CODE DCB correction'"}],"mark":{"type":"point","filled":true,"shape":"circle","color":"#8c8c8c","opacity":1,"size":60},
     "encoding":{
      "x":{"field":"n","type":"quantitative","scale":{"domain":[0,32],"nice":false},"axis":{"orient":"bottom","values":[0,4,8,12,16,20,24,28,32],"tickSize":15,"labelOverlap":false,"title":"PRN number of GPS satelite","titlePadding":2}},
      "y":{"field":"v","type":"quantitative","scale":{"domain":[-20,30],"nice":false},"axis":{"orient":"left","values":[-20,-10,0,10,20,30],"tickSize":15,"labelOverlap":false,"title":"DCB, TECU","titlePadding":-5}}
     }},
    {"data":{"name":"gp"},"transform":[{"filter":"datum.series == 'Evaluated DCB correction'"}],"mark":{"type":"point","filled":true,"shape":"triangle-up","color":"#000000","opacity":1,"size":75},
     "encoding":{"x":{"field":"n","type":"quantitative","axis":{"orient":"bottom","values":[2,6,10,14,18,22,26,30],"tickSize":8,"labels":false,"domain":false,"title":null}},"y":{"field":"v","type":"quantitative","axis":{"orient":"left","values":[-15,-5,5,15,25],"tickSize":8,"labels":false,"domain":false,"title":null}}}},
    {"data":{"values":[{}]},"mark":{"type":"text","font":"Liberation Serif","fontSize":27,"angle":270,"align":"center","baseline":"middle","color":"black"},"encoding":{"x":{"datum":-11.03,"axis":null},"y":{"datum":6.09,"axis":null},"text":{"value":"GPS"}}},
    {"data":{"values":[{}]},"mark":{"type":"text","font":"Liberation Serif","fontSize":20,"fontWeight":"bold","align":"right","baseline":"middle","color":"black"},"encoding":{"x":{"datum":31.86,"axis":null},"y":{"datum":25.65,"axis":null},"text":{"value":"(f)"}}}
   ]},
  {"width":74,"height":138,"data":{"values":[]},"mark":"point"},
  {"width":199,"height":138,
   "resolve":{"axis":{"x":"independent","y":"independent"}},
   "layer":[
    {"data":{"name":"g"},"mark":{"type":"line","stroke":"#000000","strokeWidth":1,"clip":true},
     "encoding":{"x":{"field":"t","type":"quantitative","scale":{"domain":[0,24],"nice":false},"axis":{"orient":"bottom","values":[0,4,8,12,16,20,24],"tickSize":15,"labelOverlap":false,"title":"UT, hours","titlePadding":2}},
      "y":{"field":"v","type":"quantitative","scale":{"domain":[-10,60],"nice":false},"axis":{"orient":"left","values":[0,20,40,60],"tickSize":15,"labelOverlap":false,"title":"I, TECU","titleFontSize":18,"titlePadding":-3}},
      "detail":{"field":"s","type":"nominal"}}},
    {"data":{"name":"m"},"transform":[{"filter":"datum.p == 'g'"}],"mark":{"type":"line","stroke":"#5c5c5c","strokeWidth":4},"encoding":{"x":{"field":"t","type":"quantitative","axis":{"orient":"bottom","values":[2,6,10,14,18,22],"tickSize":8,"labels":false,"domain":false,"title":null}},"y":{"field":"v","type":"quantitative","axis":{"orient":"left","values":[-10,10,30,50],"tickSize":8,"labels":false,"domain":false,"title":null}}}},
    {"data":{"values":[{}]},"mark":{"type":"rule","stroke":"#a9a9a9","strokeWidth":3.5},"encoding":{"y":{"datum":0,"axis":null}}},
    {"data":{"name":"m"},"transform":[{"filter":"datum.p == 'g'"}],"mark":{"type":"line","stroke":"#5c5c5c","strokeWidth":4},"encoding":{"x":{"field":"t","type":"quantitative","axis":null},"y":{"field":"v","type":"quantitative","axis":null}}},
    {"data":{"values":[{}]},"mark":{"type":"text","font":"Liberation Serif","fontSize":20,"fontWeight":"bold","align":"right","baseline":"middle","color":"black"},"encoding":{"x":{"datum":21.1,"axis":null},"y":{"datum":59.5,"axis":null},"text":{"value":"(g)"}}}
   ]},
  {"width":31,"height":138,"data":{"values":[]},"mark":"point"},
  {"width":199,"height":138,
   "resolve":{"axis":{"x":"independent","y":"independent"}},
   "layer":[
    {"data":{"name":"h"},"mark":{"type":"line","stroke":"#000000","strokeWidth":1,"clip":true},
     "encoding":{"x":{"field":"t","type":"quantitative","scale":{"domain":[0,24],"nice":false},"axis":{"orient":"bottom","values":[0,4,8,12,16,20,24],"tickSize":15,"labelOverlap":false,"title":"UT, hours","titlePadding":2}},
      "y":{"field":"v","type":"quantitative","scale":{"domain":[-10,60],"nice":false},"axis":{"orient":"left","values":[0,20,40,60],"tickSize":15,"labels":false,"title":null}},
      "detail":{"field":"s","type":"nominal"}}},
    {"data":{"name":"m"},"transform":[{"filter":"datum.p == 'h'"}],"mark":{"type":"line","stroke":"#5c5c5c","strokeWidth":4},"encoding":{"x":{"field":"t","type":"quantitative","axis":{"orient":"bottom","values":[2,6,10,14,18,22],"tickSize":8,"labels":false,"domain":false,"title":null}},"y":{"field":"v","type":"quantitative","axis":{"orient":"left","values":[-10,10,30,50],"tickSize":8,"labels":false,"domain":false,"title":null}}}},
    {"data":{"values":[{}]},"mark":{"type":"rule","stroke":"#a9a9a9","strokeWidth":3.5},"encoding":{"y":{"datum":0,"axis":null}}},
    {"data":{"name":"m"},"transform":[{"filter":"datum.p == 'h'"}],"mark":{"type":"line","stroke":"#5c5c5c","strokeWidth":4},"encoding":{"x":{"field":"t","type":"quantitative","axis":null},"y":{"field":"v","type":"quantitative","axis":null}}},
    {"data":{"values":[{}]},"mark":{"type":"text","font":"Liberation Serif","fontSize":20,"fontWeight":"bold","align":"right","baseline":"middle","color":"black"},"encoding":{"x":{"datum":23.4,"axis":null},"y":{"datum":59.5,"axis":null},"text":{"value":"(h)"}}}
   ]},
  {"width":55,"height":138,"data":{"values":[]},"mark":"point"},
  {"width":198,"height":138,
   "resolve":{"axis":{"x":"independent","y":"independent"}},
   "layer":[
    {"data":{"name":"i"},"mark":{"type":"line","stroke":"#000000","strokeWidth":1,"clip":true},
     "encoding":{"x":{"field":"t","type":"quantitative","scale":{"domain":[0,24],"nice":false},"axis":{"orient":"bottom","values":[0,4,8,12,16,20,24],"tickSize":15,"labelOverlap":false,"title":"UT, hours","titlePadding":2}},
      "y":{"field":"v","type":"quantitative","scale":{"domain":[-10,20],"nice":false},"axis":{"orient":"left","values":[-10,0,10,20],"tickSize":15,"labelOverlap":false,"title":null}},
      "detail":{"field":"s","type":"nominal"}}},
    {"data":{"name":"m"},"transform":[{"filter":"datum.p == 'i'"}],"mark":{"type":"line","stroke":"#5c5c5c","strokeWidth":4},"encoding":{"x":{"field":"t","type":"quantitative","axis":{"orient":"bottom","values":[2,6,10,14,18,22],"tickSize":8,"labels":false,"domain":false,"title":null}},"y":{"field":"v","type":"quantitative","axis":{"orient":"left","values":[-5,5,15],"tickSize":8,"labels":false,"domain":false,"title":null}}}},
    {"data":{"values":[{}]},"mark":{"type":"rule","stroke":"#a9a9a9","strokeWidth":3.5},"encoding":{"y":{"datum":0,"axis":null}}},
    {"data":{"name":"m"},"transform":[{"filter":"datum.p == 'i'"}],"mark":{"type":"line","stroke":"#5c5c5c","strokeWidth":4},"encoding":{"x":{"field":"t","type":"quantitative","axis":null},"y":{"field":"v","type":"quantitative","axis":null}}},
    {"data":{"values":[{}]},"mark":{"type":"text","font":"Liberation Serif","fontSize":20,"fontWeight":"bold","align":"right","baseline":"middle","color":"black"},"encoding":{"x":{"datum":22.55,"axis":null},"y":{"datum":19.57,"axis":null},"text":{"value":"(i)"}}}
   ]},
  {"width":32,"height":138,"data":{"values":[]},"mark":"point"},
  {"width":198,"height":138,
   "resolve":{"axis":{"x":"independent","y":"independent"}},
   "layer":[
    {"data":{"name":"j"},"mark":{"type":"line","stroke":"#000000","strokeWidth":1,"clip":true},
     "encoding":{"x":{"field":"t","type":"quantitative","scale":{"domain":[0,24],"nice":false},"axis":{"orient":"bottom","values":[0,4,8,12,16,20,24],"tickSize":15,"labelOverlap":false,"title":"UT, hours","titlePadding":2}},
      "y":{"field":"v","type":"quantitative","scale":{"domain":[-10,20],"nice":false},"axis":{"orient":"left","values":[-10,0,10,20],"tickSize":15,"labels":false,"title":null}},
      "detail":{"field":"s","type":"nominal"}}},
    {"data":{"name":"m"},"transform":[{"filter":"datum.p == 'j'"}],"mark":{"type":"line","stroke":"#5c5c5c","strokeWidth":4},"encoding":{"x":{"field":"t","type":"quantitative","axis":{"orient":"bottom","values":[2,6,10,14,18,22],"tickSize":8,"labels":false,"domain":false,"title":null}},"y":{"field":"v","type":"quantitative","axis":{"orient":"left","values":[-5,5,15],"tickSize":8,"labels":false,"domain":false,"title":null}}}},
    {"data":{"values":[{}]},"mark":{"type":"rule","stroke":"#a9a9a9","strokeWidth":3.5},"encoding":{"y":{"datum":0,"axis":null}}},
    {"data":{"name":"m"},"transform":[{"filter":"datum.p == 'j'"}],"mark":{"type":"line","stroke":"#5c5c5c","strokeWidth":4},"encoding":{"x":{"field":"t","type":"quantitative","axis":null},"y":{"field":"v","type":"quantitative","axis":null}}},
    {"data":{"values":[{}]},"mark":{"type":"text","font":"Liberation Serif","fontSize":20,"fontWeight":"bold","align":"right","baseline":"middle","color":"black"},"encoding":{"x":{"datum":23.64,"axis":null},"y":{"datum":19.57,"axis":null},"text":{"value":"(j)"}}}
   ]}
]
}
